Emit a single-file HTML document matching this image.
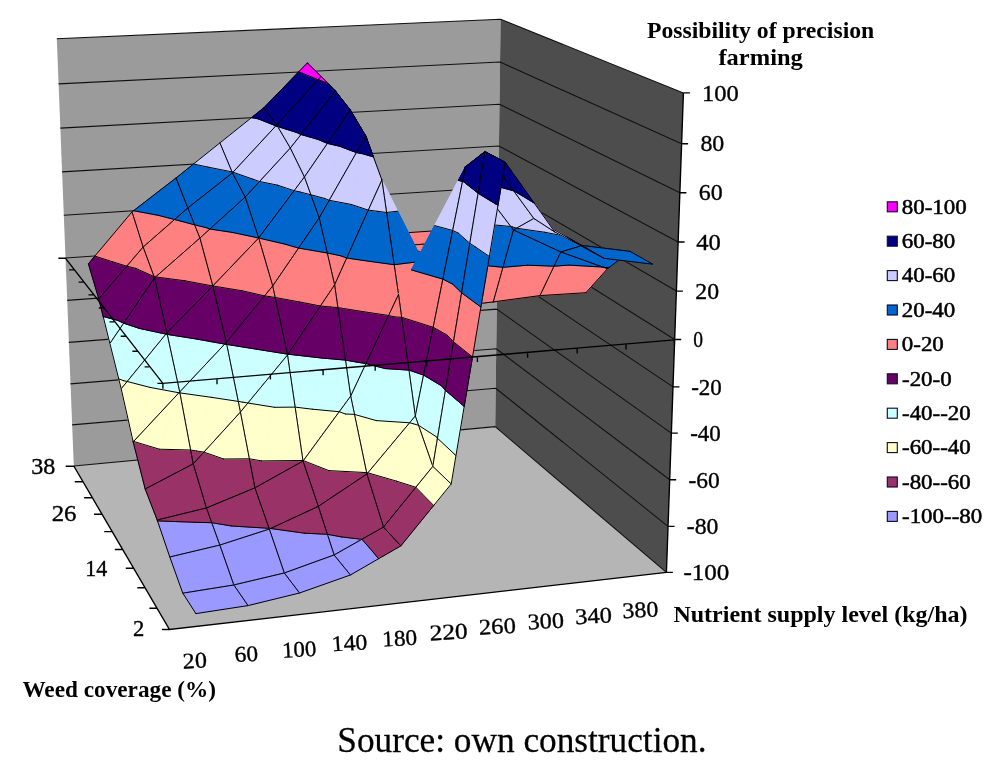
<!DOCTYPE html>
<html><head><meta charset="utf-8"><title>Possibility of precision farming</title>
<style>
html,body{margin:0;padding:0;background:#fff;}
body{width:1000px;height:763px;overflow:hidden;font-family:"Liberation Serif",serif;}
svg{display:block;font-family:"Liberation Serif",serif;}
text{fill:#000;}
</style></head><body>
<svg width="1000" height="763" viewBox="0 0 1000 763">
<defs><filter id="soft" x="0" y="0" width="1000" height="763" filterUnits="userSpaceOnUse"><feGaussianBlur stdDeviation="0.38"/></filter></defs>
<rect width="1000" height="763" fill="#fff"/>
<g filter="url(#soft)">
<polygon points="73.8,466.0 495.2,426.6 666.4,572.4 169.5,629.5" fill="#b5b5b5"/>
<polygon points="56.8,38.7 500.6,19.3 495.2,426.6 73.8,466.0" fill="#9b9b9b"/>
<polygon points="500.6,19.3 683.4,92.9 666.4,572.4 495.2,426.6" fill="#4e4e4e"/>
<path d="M56.8,38.7L500.6,19.3M58.6,83.9L500.0,62.0M60.3,128.1L499.5,104.3M62.1,171.9L498.9,146.0M63.8,215.2L498.4,187.3M65.5,258.0L497.8,228.3M67.2,300.4L497.3,268.9M68.8,342.4L496.8,309.1M70.5,383.9L496.2,348.7M72.1,424.9L495.7,388.2M73.8,466.0L495.2,426.6M500.6,19.3L683.4,92.9M500.0,62.0L681.6,143.7M499.5,104.3L679.9,192.7M498.9,146.0L678.1,242.0M498.4,187.3L676.4,291.1M497.8,228.3L674.7,339.5M497.3,268.9L673.0,386.9M496.8,309.1L671.3,433.1M496.2,348.7L669.7,479.8M495.7,388.2L668.0,526.4M495.2,426.6L666.4,572.4" stroke="#111" stroke-width="1.1" fill="none"/>
<path d="M451.9,242.2L477.8,227.8L436.2,230.7Z" fill="#ff8080" stroke="#ff8080" stroke-width="1"/>
<path d="M451.9,242.2L494.1,239.2L477.8,227.8Z" fill="#ff8080" stroke="#ff8080" stroke-width="1"/>
<path d="M477.8,227.8L436.2,230.7L451.9,242.2M451.9,242.2L494.1,239.2L477.8,227.8" fill="none" stroke="#000" stroke-width="1.0" stroke-linejoin="round" stroke-linecap="round"/>
<path d="M409.2,245.2L436.2,230.7L394.3,233.6Z" fill="#ff8080" stroke="#ff8080" stroke-width="1"/>
<path d="M409.2,245.2L451.9,242.2L436.2,230.7Z" fill="#ff8080" stroke="#ff8080" stroke-width="1"/>
<path d="M436.2,230.7L394.3,233.6L409.2,245.2M409.2,245.2L451.9,242.2L436.2,230.7" fill="none" stroke="#000" stroke-width="1.0" stroke-linejoin="round" stroke-linecap="round"/>
<path d="M366.1,247.2L394.3,233.6L351.9,236.3Z" fill="#ff8080" stroke="#ff8080" stroke-width="1"/>
<path d="M366.1,247.2L409.2,245.2L394.3,233.6Z" fill="#ff8080" stroke="#ff8080" stroke-width="1"/>
<path d="M394.3,233.6L351.9,236.3L366.1,247.2M366.1,247.2L409.2,245.2L394.3,233.6" fill="none" stroke="#000" stroke-width="1.0" stroke-linejoin="round" stroke-linecap="round"/>
<path d="M344.8,199.8L351.9,236.3L341.9,197.4Z" fill="#ff8080" stroke="#ff8080" stroke-width="1"/>
<path d="M337.3,160.5L344.8,199.8L341.9,197.4L331.2,155.9Z" fill="#0066cc" stroke="#0066cc" stroke-width="1"/>
<path d="M329.5,120.4L337.3,160.5L331.2,155.9L320.4,113.9Z" fill="#ccccff" stroke="#ccccff" stroke-width="1"/>
<path d="M321.6,79.3L329.5,120.4L320.4,113.9L309.4,71.4Z" fill="#000080" stroke="#000080" stroke-width="1"/>
<path d="M321.1,76.4L321.6,79.3L309.4,71.4L307.3,63.0Z" fill="#ff00ff" stroke="#ff00ff" stroke-width="1"/>
<path d="M355.7,207.6L366.1,247.2L351.9,236.3L344.8,199.8Z" fill="#ff8080" stroke="#ff8080" stroke-width="1"/>
<path d="M344.6,165.5L355.7,207.6L344.8,199.8L337.3,160.5Z" fill="#0066cc" stroke="#0066cc" stroke-width="1"/>
<path d="M333.3,122.8L344.6,165.5L337.3,160.5L329.5,120.4Z" fill="#ccccff" stroke="#ccccff" stroke-width="1"/>
<path d="M321.9,79.5L333.3,122.8L329.5,120.4L321.6,79.3Z" fill="#000080" stroke="#000080" stroke-width="1"/>
<path d="M321.1,76.4L321.9,79.5L321.6,79.3Z" fill="#ff00ff" stroke="#ff00ff" stroke-width="1"/>
<path d="M351.9,236.3L307.3,63.0L321.1,76.4M344.8,199.8L341.9,197.4M337.3,160.5L331.2,155.9M329.5,120.4L320.4,113.9M321.6,79.3L309.4,71.4M321.1,76.4L366.1,247.2L351.9,236.3M355.7,207.6L344.8,199.8M344.6,165.5L337.3,160.5M333.3,122.8L329.5,120.4M321.9,79.5L321.6,79.3" fill="none" stroke="#000" stroke-width="1.0" stroke-linejoin="round" stroke-linecap="round"/>
<path d="M276.7,125.0L302.3,73.2L298.6,71.9L263.7,107.9Z" fill="#000080" stroke="#000080" stroke-width="1"/>
<path d="M302.3,73.2L307.3,63.0L298.6,71.9Z" fill="#ff00ff" stroke="#ff00ff" stroke-width="1"/>
<path d="M276.7,125.0L318.1,79.7L302.3,73.2Z" fill="#000080" stroke="#000080" stroke-width="1"/>
<path d="M318.1,79.7L321.1,76.4L307.3,63.0L302.3,73.2Z" fill="#ff00ff" stroke="#ff00ff" stroke-width="1"/>
<path d="M307.3,63.0L263.7,107.9L276.7,125.0M302.3,73.2L298.6,71.9M276.7,125.0L321.1,76.4L307.3,63.0M318.1,79.7L302.3,73.2" fill="none" stroke="#000" stroke-width="1.0" stroke-linejoin="round" stroke-linecap="round"/>
<path d="M232.4,172.9L232.8,172.1L232.0,171.9Z" fill="#0066cc" stroke="#0066cc" stroke-width="1"/>
<path d="M232.8,172.1L258.4,118.9L251.5,117.6L219.9,142.9L232.0,171.9Z" fill="#ccccff" stroke="#ccccff" stroke-width="1"/>
<path d="M258.4,118.9L263.7,107.9L251.5,117.6Z" fill="#000080" stroke="#000080" stroke-width="1"/>
<path d="M232.4,172.9L233.0,172.2L232.8,172.1Z" fill="#0066cc" stroke="#0066cc" stroke-width="1"/>
<path d="M233.0,172.2L275.9,125.9L258.4,118.9L232.8,172.1Z" fill="#ccccff" stroke="#ccccff" stroke-width="1"/>
<path d="M275.9,125.9L276.7,125.0L263.7,107.9L258.4,118.9Z" fill="#000080" stroke="#000080" stroke-width="1"/>
<path d="M263.7,107.9L219.9,142.9L232.4,172.9M232.8,172.1L232.0,171.9M258.4,118.9L251.5,117.6M232.4,172.9L276.7,125.0L263.7,107.9M233.0,172.2L232.8,172.1M275.9,125.9L258.4,118.9" fill="none" stroke="#000" stroke-width="1.0" stroke-linejoin="round" stroke-linecap="round"/>
<path d="M187.8,208.0L208.0,167.1L193.5,164.0L176.0,178.0Z" fill="#0066cc" stroke="#0066cc" stroke-width="1"/>
<path d="M208.0,167.1L219.9,142.9L193.5,164.0Z" fill="#ccccff" stroke="#ccccff" stroke-width="1"/>
<path d="M187.8,208.0L232.4,172.9L232.0,171.9L208.0,167.1Z" fill="#0066cc" stroke="#0066cc" stroke-width="1"/>
<path d="M232.0,171.9L219.9,142.9L208.0,167.1Z" fill="#ccccff" stroke="#ccccff" stroke-width="1"/>
<path d="M219.9,142.9L176.0,178.0L187.8,208.0M208.0,167.1L193.5,164.0M187.8,208.0L232.4,172.9L219.9,142.9M232.0,171.9L208.0,167.1" fill="none" stroke="#000" stroke-width="1.0" stroke-linejoin="round" stroke-linecap="round"/>
<path d="M143.1,247.1L158.2,215.3L133.5,210.7L132.0,211.9Z" fill="#ff8080" stroke="#ff8080" stroke-width="1"/>
<path d="M158.2,215.3L176.0,178.0L133.5,210.7Z" fill="#0066cc" stroke="#0066cc" stroke-width="1"/>
<path d="M143.1,247.1L174.6,219.5L158.2,215.3Z" fill="#ff8080" stroke="#ff8080" stroke-width="1"/>
<path d="M174.6,219.5L187.8,208.0L176.0,178.0L158.2,215.3Z" fill="#0066cc" stroke="#0066cc" stroke-width="1"/>
<path d="M176.0,178.0L132.0,211.9L143.1,247.1M158.2,215.3L133.5,210.7M143.1,247.1L187.8,208.0L176.0,178.0M174.6,219.5L158.2,215.3" fill="none" stroke="#000" stroke-width="1.0" stroke-linejoin="round" stroke-linecap="round"/>
<path d="M98.8,298.9L112.9,261.9L94.9,256.1L88.4,263.8Z" fill="#660066" stroke="#660066" stroke-width="1"/>
<path d="M112.9,261.9L132.0,211.9L94.9,256.1Z" fill="#ff8080" stroke="#ff8080" stroke-width="1"/>
<path d="M98.8,298.9L126.8,266.2L112.9,261.9Z" fill="#660066" stroke="#660066" stroke-width="1"/>
<path d="M126.8,266.2L143.1,247.1L132.0,211.9L112.9,261.9Z" fill="#ff8080" stroke="#ff8080" stroke-width="1"/>
<path d="M132.0,211.9L88.4,263.8L98.8,298.9M112.9,261.9L94.9,256.1M98.8,298.9L143.1,247.1L132.0,211.9M126.8,266.2L112.9,261.9" fill="none" stroke="#000" stroke-width="1.0" stroke-linejoin="round" stroke-linecap="round"/>
<path d="M468.1,252.3L494.1,239.2L451.9,242.2Z" fill="#ff8080" stroke="#ff8080" stroke-width="1"/>
<path d="M468.1,252.3L511.1,249.2L494.1,239.2Z" fill="#ff8080" stroke="#ff8080" stroke-width="1"/>
<path d="M494.1,239.2L451.9,242.2L468.1,252.3M468.1,252.3L511.1,249.2L494.1,239.2" fill="none" stroke="#000" stroke-width="1.0" stroke-linejoin="round" stroke-linecap="round"/>
<path d="M424.7,255.4L451.9,242.2L409.2,245.2Z" fill="#ff8080" stroke="#ff8080" stroke-width="1"/>
<path d="M424.7,255.4L468.1,252.3L451.9,242.2Z" fill="#ff8080" stroke="#ff8080" stroke-width="1"/>
<path d="M451.9,242.2L409.2,245.2L424.7,255.4M424.7,255.4L468.1,252.3L451.9,242.2" fill="none" stroke="#000" stroke-width="1.0" stroke-linejoin="round" stroke-linecap="round"/>
<path d="M380.9,258.5L409.2,245.2L366.1,247.2Z" fill="#ff8080" stroke="#ff8080" stroke-width="1"/>
<path d="M380.9,258.5L424.7,255.4L409.2,245.2Z" fill="#ff8080" stroke="#ff8080" stroke-width="1"/>
<path d="M409.2,245.2L366.1,247.2L380.9,258.5M380.9,258.5L424.7,255.4L409.2,245.2" fill="none" stroke="#000" stroke-width="1.0" stroke-linejoin="round" stroke-linecap="round"/>
<path d="M358.8,210.2L366.1,247.2L355.7,207.6Z" fill="#ff8080" stroke="#ff8080" stroke-width="1"/>
<path d="M351.0,170.5L358.8,210.2L355.7,207.6L344.6,165.5Z" fill="#0066cc" stroke="#0066cc" stroke-width="1"/>
<path d="M343.0,129.7L351.0,170.5L344.6,165.5L333.3,122.8Z" fill="#ccccff" stroke="#ccccff" stroke-width="1"/>
<path d="M335.4,91.0L343.0,129.7L333.3,122.8L321.9,79.5L328.2,83.7Z" fill="#000080" stroke="#000080" stroke-width="1"/>
<path d="M321.9,79.5L321.1,76.4L328.2,83.7Z" fill="#ff00ff" stroke="#ff00ff" stroke-width="1"/>
<path d="M370.0,218.3L380.9,258.5L366.1,247.2L358.8,210.2Z" fill="#ff8080" stroke="#ff8080" stroke-width="1"/>
<path d="M358.3,175.4L370.0,218.3L358.8,210.2L351.0,170.5Z" fill="#0066cc" stroke="#0066cc" stroke-width="1"/>
<path d="M346.5,132.0L358.3,175.4L351.0,170.5L343.0,129.7Z" fill="#ccccff" stroke="#ccccff" stroke-width="1"/>
<path d="M335.4,91.0L346.5,132.0L343.0,129.7Z" fill="#000080" stroke="#000080" stroke-width="1"/>
<path d="M366.1,247.2L321.1,76.4L335.4,91.0M358.8,210.2L355.7,207.6M351.0,170.5L344.6,165.5M343.0,129.7L333.3,122.8M321.9,79.5L328.2,83.7M335.4,91.0L380.9,258.5L366.1,247.2M370.0,218.3L358.8,210.2M358.3,175.4L351.0,170.5M346.5,132.0L343.0,129.7" fill="none" stroke="#000" stroke-width="1.0" stroke-linejoin="round" stroke-linecap="round"/>
<path d="M290.3,148.1L297.0,132.6L277.6,126.5Z" fill="#ccccff" stroke="#ccccff" stroke-width="1"/>
<path d="M297.0,132.6L319.5,80.1L318.1,79.7L276.7,125.0L277.6,126.5Z" fill="#000080" stroke="#000080" stroke-width="1"/>
<path d="M319.5,80.1L321.1,76.4L318.1,79.7Z" fill="#ff00ff" stroke="#ff00ff" stroke-width="1"/>
<path d="M290.3,148.1L301.0,134.5L297.0,132.6Z" fill="#ccccff" stroke="#ccccff" stroke-width="1"/>
<path d="M301.0,134.5L335.4,91.0L328.2,83.7L319.5,80.1L297.0,132.6Z" fill="#000080" stroke="#000080" stroke-width="1"/>
<path d="M328.2,83.7L321.1,76.4L319.5,80.1Z" fill="#ff00ff" stroke="#ff00ff" stroke-width="1"/>
<path d="M321.1,76.4L276.7,125.0L290.3,148.1M297.0,132.6L277.6,126.5M319.5,80.1L318.1,79.7M290.3,148.1L335.4,91.0L321.1,76.4M301.0,134.5L297.0,132.6M328.2,83.7L319.5,80.1" fill="none" stroke="#000" stroke-width="1.0" stroke-linejoin="round" stroke-linecap="round"/>
<path d="M245.2,197.1L253.0,179.2L233.0,172.2L232.4,172.9Z" fill="#0066cc" stroke="#0066cc" stroke-width="1"/>
<path d="M253.0,179.2L276.3,126.1L275.9,125.9L233.0,172.2Z" fill="#ccccff" stroke="#ccccff" stroke-width="1"/>
<path d="M276.3,126.1L276.7,125.0L275.9,125.9Z" fill="#000080" stroke="#000080" stroke-width="1"/>
<path d="M245.2,197.1L259.5,181.5L253.0,179.2Z" fill="#0066cc" stroke="#0066cc" stroke-width="1"/>
<path d="M259.5,181.5L290.3,148.1L277.6,126.5L276.3,126.1L253.0,179.2Z" fill="#ccccff" stroke="#ccccff" stroke-width="1"/>
<path d="M277.6,126.5L276.7,125.0L276.3,126.1Z" fill="#000080" stroke="#000080" stroke-width="1"/>
<path d="M276.7,125.0L232.4,172.9L245.2,197.1M253.0,179.2L233.0,172.2M276.3,126.1L275.9,125.9M245.2,197.1L290.3,148.1L276.7,125.0M259.5,181.5L253.0,179.2M277.6,126.5L276.3,126.1" fill="none" stroke="#000" stroke-width="1.0" stroke-linejoin="round" stroke-linecap="round"/>
<path d="M199.9,238.1L205.2,227.4L194.5,224.8Z" fill="#ff8080" stroke="#ff8080" stroke-width="1"/>
<path d="M205.2,227.4L232.4,172.9L187.8,208.0L194.5,224.8Z" fill="#0066cc" stroke="#0066cc" stroke-width="1"/>
<path d="M199.9,238.1L209.9,229.0L205.2,227.4Z" fill="#ff8080" stroke="#ff8080" stroke-width="1"/>
<path d="M209.9,229.0L245.2,197.1L232.4,172.9L205.2,227.4Z" fill="#0066cc" stroke="#0066cc" stroke-width="1"/>
<path d="M232.4,172.9L187.8,208.0L199.9,238.1M205.2,227.4L194.5,224.8M199.9,238.1L245.2,197.1L232.4,172.9M209.9,229.0L205.2,227.4" fill="none" stroke="#000" stroke-width="1.0" stroke-linejoin="round" stroke-linecap="round"/>
<path d="M154.5,277.9L155.0,276.8L153.9,276.5Z" fill="#660066" stroke="#660066" stroke-width="1"/>
<path d="M155.0,276.8L181.4,221.3L174.6,219.5L143.1,247.1L153.9,276.5Z" fill="#ff8080" stroke="#ff8080" stroke-width="1"/>
<path d="M181.4,221.3L187.8,208.0L174.6,219.5Z" fill="#0066cc" stroke="#0066cc" stroke-width="1"/>
<path d="M154.5,277.9L155.6,276.9L155.0,276.8Z" fill="#660066" stroke="#660066" stroke-width="1"/>
<path d="M155.6,276.9L199.9,238.1L194.5,224.8L181.4,221.3L155.0,276.8Z" fill="#ff8080" stroke="#ff8080" stroke-width="1"/>
<path d="M194.5,224.8L187.8,208.0L181.4,221.3Z" fill="#0066cc" stroke="#0066cc" stroke-width="1"/>
<path d="M187.8,208.0L143.1,247.1L154.5,277.9M155.0,276.8L153.9,276.5M181.4,221.3L174.6,219.5M154.5,277.9L199.9,238.1L187.8,208.0M155.6,276.9L155.0,276.8M194.5,224.8L181.4,221.3" fill="none" stroke="#000" stroke-width="1.0" stroke-linejoin="round" stroke-linecap="round"/>
<path d="M109.9,343.5L117.8,320.4L103.2,316.5Z" fill="#ccffff" stroke="#ccffff" stroke-width="1"/>
<path d="M117.8,320.4L135.8,268.4L126.8,266.2L98.8,298.9L103.2,316.5Z" fill="#660066" stroke="#660066" stroke-width="1"/>
<path d="M135.8,268.4L143.1,247.1L126.8,266.2Z" fill="#ff8080" stroke="#ff8080" stroke-width="1"/>
<path d="M109.9,343.5L123.7,323.2L117.8,320.4Z" fill="#ccffff" stroke="#ccffff" stroke-width="1"/>
<path d="M123.7,323.2L154.5,277.9L153.9,276.5L135.8,268.4L117.8,320.4Z" fill="#660066" stroke="#660066" stroke-width="1"/>
<path d="M153.9,276.5L143.1,247.1L135.8,268.4Z" fill="#ff8080" stroke="#ff8080" stroke-width="1"/>
<path d="M143.1,247.1L98.8,298.9L109.9,343.5M117.8,320.4L103.2,316.5M135.8,268.4L126.8,266.2M109.9,343.5L154.5,277.9L143.1,247.1M123.7,323.2L117.8,320.4M153.9,276.5L135.8,268.4" fill="none" stroke="#000" stroke-width="1.0" stroke-linejoin="round" stroke-linecap="round"/>
<path d="M485.0,263.8L511.1,249.2L468.1,252.3Z" fill="#ff8080" stroke="#ff8080" stroke-width="1"/>
<path d="M485.0,263.8L528.7,260.6L511.1,249.2Z" fill="#ff8080" stroke="#ff8080" stroke-width="1"/>
<path d="M511.1,249.2L468.1,252.3L485.0,263.8M485.0,263.8L528.7,260.6L511.1,249.2" fill="none" stroke="#000" stroke-width="1.0" stroke-linejoin="round" stroke-linecap="round"/>
<path d="M440.9,267.1L468.1,252.3L424.7,255.4Z" fill="#ff8080" stroke="#ff8080" stroke-width="1"/>
<path d="M440.9,267.1L485.0,263.8L468.1,252.3Z" fill="#ff8080" stroke="#ff8080" stroke-width="1"/>
<path d="M468.1,252.3L424.7,255.4L440.9,267.1M440.9,267.1L485.0,263.8L468.1,252.3" fill="none" stroke="#000" stroke-width="1.0" stroke-linejoin="round" stroke-linecap="round"/>
<path d="M396.2,270.3L424.7,255.4L380.9,258.5Z" fill="#ff8080" stroke="#ff8080" stroke-width="1"/>
<path d="M396.2,270.3L440.9,267.1L424.7,255.4Z" fill="#ff8080" stroke="#ff8080" stroke-width="1"/>
<path d="M424.7,255.4L380.9,258.5L396.2,270.3M396.2,270.3L440.9,267.1L424.7,255.4" fill="none" stroke="#000" stroke-width="1.0" stroke-linejoin="round" stroke-linecap="round"/>
<path d="M373.2,221.2L380.9,258.5L370.0,218.3Z" fill="#ff8080" stroke="#ff8080" stroke-width="1"/>
<path d="M364.9,181.0L373.2,221.2L370.0,218.3L358.3,175.4Z" fill="#0066cc" stroke="#0066cc" stroke-width="1"/>
<path d="M356.4,139.7L364.9,181.0L358.3,175.4L346.5,132.0Z" fill="#ccccff" stroke="#ccccff" stroke-width="1"/>
<path d="M350.3,110.0L356.4,139.7L346.5,132.0L335.4,91.0Z" fill="#000080" stroke="#000080" stroke-width="1"/>
<path d="M384.5,229.4L396.2,270.3L380.9,258.5L373.2,221.2Z" fill="#ff8080" stroke="#ff8080" stroke-width="1"/>
<path d="M372.0,185.8L384.5,229.4L373.2,221.2L364.9,181.0Z" fill="#0066cc" stroke="#0066cc" stroke-width="1"/>
<path d="M359.3,141.6L372.0,185.8L364.9,181.0L356.4,139.7Z" fill="#ccccff" stroke="#ccccff" stroke-width="1"/>
<path d="M350.3,110.0L359.3,141.6L356.4,139.7Z" fill="#000080" stroke="#000080" stroke-width="1"/>
<path d="M380.9,258.5L335.4,91.0L350.3,110.0M373.2,221.2L370.0,218.3M364.9,181.0L358.3,175.4M356.4,139.7L346.5,132.0M350.3,110.0L396.2,270.3L380.9,258.5M384.5,229.4L373.2,221.2M372.0,185.8L364.9,181.0M359.3,141.6L356.4,139.7" fill="none" stroke="#000" stroke-width="1.0" stroke-linejoin="round" stroke-linecap="round"/>
<path d="M304.4,177.0L318.0,139.4L301.0,134.5L290.3,148.1Z" fill="#ccccff" stroke="#ccccff" stroke-width="1"/>
<path d="M318.0,139.4L335.4,91.0L301.0,134.5Z" fill="#000080" stroke="#000080" stroke-width="1"/>
<path d="M304.4,177.0L327.4,143.4L318.0,139.4Z" fill="#ccccff" stroke="#ccccff" stroke-width="1"/>
<path d="M327.4,143.4L350.3,110.0L335.4,91.0L318.0,139.4Z" fill="#000080" stroke="#000080" stroke-width="1"/>
<path d="M335.4,91.0L290.3,148.1L304.4,177.0M318.0,139.4L301.0,134.5M304.4,177.0L350.3,110.0L335.4,91.0M327.4,143.4L318.0,139.4" fill="none" stroke="#000" stroke-width="1.0" stroke-linejoin="round" stroke-linecap="round"/>
<path d="M258.7,238.0L258.7,238.0L258.7,238.0Z" fill="#ff8080" stroke="#ff8080" stroke-width="1"/>
<path d="M258.7,238.0L277.3,185.1L259.5,181.5L245.2,197.1Z" fill="#0066cc" stroke="#0066cc" stroke-width="1"/>
<path d="M277.3,185.1L290.3,148.1L259.5,181.5Z" fill="#ccccff" stroke="#ccccff" stroke-width="1"/>
<path d="M258.7,238.0L258.7,238.0L258.7,238.0Z" fill="#ff8080" stroke="#ff8080" stroke-width="1"/>
<path d="M258.7,238.0L294.1,190.7L277.3,185.1Z" fill="#0066cc" stroke="#0066cc" stroke-width="1"/>
<path d="M294.1,190.7L304.4,177.0L290.3,148.1L277.3,185.1Z" fill="#ccccff" stroke="#ccccff" stroke-width="1"/>
<path d="M290.3,148.1L245.2,197.1L258.7,238.0M277.3,185.1L259.5,181.5M258.7,238.0L304.4,177.0L290.3,148.1M294.1,190.7L277.3,185.1" fill="none" stroke="#000" stroke-width="1.0" stroke-linejoin="round" stroke-linecap="round"/>
<path d="M212.8,286.0L212.8,286.0L212.8,286.0Z" fill="#660066" stroke="#660066" stroke-width="1"/>
<path d="M212.8,286.0L232.3,232.4L209.9,229.0L199.9,238.1Z" fill="#ff8080" stroke="#ff8080" stroke-width="1"/>
<path d="M232.3,232.4L245.2,197.1L209.9,229.0Z" fill="#0066cc" stroke="#0066cc" stroke-width="1"/>
<path d="M212.8,286.0L212.8,286.0L212.8,286.0Z" fill="#660066" stroke="#660066" stroke-width="1"/>
<path d="M212.8,286.0L258.7,238.0L258.7,238.0L232.3,232.4Z" fill="#ff8080" stroke="#ff8080" stroke-width="1"/>
<path d="M258.7,238.0L258.7,238.0L245.2,197.1L232.3,232.4Z" fill="#0066cc" stroke="#0066cc" stroke-width="1"/>
<path d="M245.2,197.1L199.9,238.1L212.8,286.0M232.3,232.4L209.9,229.0M212.8,286.0L258.7,238.0L245.2,197.1M258.7,238.0L232.3,232.4" fill="none" stroke="#000" stroke-width="1.0" stroke-linejoin="round" stroke-linecap="round"/>
<path d="M166.9,332.9L185.0,280.8L155.6,276.9L154.5,277.9Z" fill="#660066" stroke="#660066" stroke-width="1"/>
<path d="M185.0,280.8L199.9,238.1L155.6,276.9Z" fill="#ff8080" stroke="#ff8080" stroke-width="1"/>
<path d="M166.9,332.9L212.8,286.0L212.8,286.0L185.0,280.8Z" fill="#660066" stroke="#660066" stroke-width="1"/>
<path d="M212.8,286.0L212.8,286.0L199.9,238.1L185.0,280.8Z" fill="#ff8080" stroke="#ff8080" stroke-width="1"/>
<path d="M199.9,238.1L154.5,277.9L166.9,332.9M185.0,280.8L155.6,276.9M166.9,332.9L212.8,286.0L199.9,238.1M212.8,286.0L185.0,280.8" fill="none" stroke="#000" stroke-width="1.0" stroke-linejoin="round" stroke-linecap="round"/>
<path d="M121.2,388.8L123.7,380.7L118.7,378.9Z" fill="#ffffcc" stroke="#ffffcc" stroke-width="1"/>
<path d="M123.7,380.7L139.3,328.4L123.7,323.2L109.9,343.5L118.7,378.9Z" fill="#ccffff" stroke="#ccffff" stroke-width="1"/>
<path d="M139.3,328.4L154.5,277.9L123.7,323.2Z" fill="#660066" stroke="#660066" stroke-width="1"/>
<path d="M121.2,388.8L127.2,381.5L123.7,380.7Z" fill="#ffffcc" stroke="#ffffcc" stroke-width="1"/>
<path d="M127.2,381.5L165.9,334.1L139.3,328.4L123.7,380.7Z" fill="#ccffff" stroke="#ccffff" stroke-width="1"/>
<path d="M165.9,334.1L166.9,332.9L154.5,277.9L139.3,328.4Z" fill="#660066" stroke="#660066" stroke-width="1"/>
<path d="M154.5,277.9L109.9,343.5L121.2,388.8M123.7,380.7L118.7,378.9M139.3,328.4L123.7,323.2M121.2,388.8L166.9,332.9L154.5,277.9M127.2,381.5L123.7,380.7M165.9,334.1L139.3,328.4" fill="none" stroke="#000" stroke-width="1.0" stroke-linejoin="round" stroke-linecap="round"/>
<path d="M502.5,275.8L528.7,260.6L485.0,263.8Z" fill="#ff8080" stroke="#ff8080" stroke-width="1"/>
<path d="M502.5,275.8L547.0,272.5L528.7,260.6Z" fill="#ff8080" stroke="#ff8080" stroke-width="1"/>
<path d="M528.7,260.6L485.0,263.8L502.5,275.8M502.5,275.8L547.0,272.5L528.7,260.6" fill="none" stroke="#000" stroke-width="1.0" stroke-linejoin="round" stroke-linecap="round"/>
<path d="M457.6,279.2L485.0,263.8L440.9,267.1Z" fill="#ff8080" stroke="#ff8080" stroke-width="1"/>
<path d="M457.6,279.2L502.5,275.8L485.0,263.8Z" fill="#ff8080" stroke="#ff8080" stroke-width="1"/>
<path d="M485.0,263.8L440.9,267.1L457.6,279.2M457.6,279.2L502.5,275.8L485.0,263.8" fill="none" stroke="#000" stroke-width="1.0" stroke-linejoin="round" stroke-linecap="round"/>
<path d="M412.2,282.1L440.9,267.1L396.2,270.3Z" fill="#ff8080" stroke="#ff8080" stroke-width="1"/>
<path d="M412.2,282.1L457.6,279.2L440.9,267.1Z" fill="#ff8080" stroke="#ff8080" stroke-width="1"/>
<path d="M440.9,267.1L396.2,270.3L412.2,282.1M412.2,282.1L457.6,279.2L440.9,267.1" fill="none" stroke="#000" stroke-width="1.0" stroke-linejoin="round" stroke-linecap="round"/>
<path d="M387.7,232.8L396.2,270.3L384.5,229.4Z" fill="#ff8080" stroke="#ff8080" stroke-width="1"/>
<path d="M378.5,192.3L387.7,232.8L384.5,229.4L372.0,185.8Z" fill="#0066cc" stroke="#0066cc" stroke-width="1"/>
<path d="M369.1,150.7L378.5,192.3L372.0,185.8L359.3,141.6Z" fill="#ccccff" stroke="#ccccff" stroke-width="1"/>
<path d="M365.8,136.1L369.1,150.7L359.3,141.6L350.3,110.0Z" fill="#000080" stroke="#000080" stroke-width="1"/>
<path d="M399.1,241.0L412.2,282.1L396.2,270.3L387.7,232.8Z" fill="#ff8080" stroke="#ff8080" stroke-width="1"/>
<path d="M385.1,196.7L399.1,241.0L387.7,232.8L378.5,192.3Z" fill="#0066cc" stroke="#0066cc" stroke-width="1"/>
<path d="M370.8,151.7L385.1,196.7L378.5,192.3L369.1,150.7Z" fill="#ccccff" stroke="#ccccff" stroke-width="1"/>
<path d="M365.8,136.1L370.8,151.7L369.1,150.7Z" fill="#000080" stroke="#000080" stroke-width="1"/>
<path d="M396.2,270.3L350.3,110.0L365.8,136.1M387.7,232.8L384.5,229.4M378.5,192.3L372.0,185.8M369.1,150.7L359.3,141.6M365.8,136.1L412.2,282.1L396.2,270.3M399.1,241.0L387.7,232.8M385.1,196.7L378.5,192.3M370.8,151.7L369.1,150.7" fill="none" stroke="#000" stroke-width="1.0" stroke-linejoin="round" stroke-linecap="round"/>
<path d="M319.2,217.9L324.8,198.5L310.9,194.8Z" fill="#0066cc" stroke="#0066cc" stroke-width="1"/>
<path d="M324.8,198.5L339.8,146.3L327.4,143.4L304.4,177.0L310.9,194.8Z" fill="#ccccff" stroke="#ccccff" stroke-width="1"/>
<path d="M339.8,146.3L350.3,110.0L327.4,143.4Z" fill="#000080" stroke="#000080" stroke-width="1"/>
<path d="M319.2,217.9L329.2,200.3L324.8,198.5Z" fill="#0066cc" stroke="#0066cc" stroke-width="1"/>
<path d="M329.2,200.3L356.4,152.6L339.8,146.3L324.8,198.5Z" fill="#ccccff" stroke="#ccccff" stroke-width="1"/>
<path d="M356.4,152.6L365.8,136.1L350.3,110.0L339.8,146.3Z" fill="#000080" stroke="#000080" stroke-width="1"/>
<path d="M350.3,110.0L304.4,177.0L319.2,217.9M324.8,198.5L310.9,194.8M339.8,146.3L327.4,143.4M319.2,217.9L365.8,136.1L350.3,110.0M329.2,200.3L324.8,198.5M356.4,152.6L339.8,146.3" fill="none" stroke="#000" stroke-width="1.0" stroke-linejoin="round" stroke-linecap="round"/>
<path d="M272.7,286.0L284.9,244.1L258.7,238.0L258.7,238.0Z" fill="#ff8080" stroke="#ff8080" stroke-width="1"/>
<path d="M284.9,244.1L300.1,192.0L294.1,190.7L258.7,238.0L258.7,238.0Z" fill="#0066cc" stroke="#0066cc" stroke-width="1"/>
<path d="M300.1,192.0L304.4,177.0L294.1,190.7Z" fill="#ccccff" stroke="#ccccff" stroke-width="1"/>
<path d="M272.7,286.0L298.6,248.1L284.9,244.1Z" fill="#ff8080" stroke="#ff8080" stroke-width="1"/>
<path d="M298.6,248.1L319.2,217.9L310.9,194.8L300.1,192.0L284.9,244.1Z" fill="#0066cc" stroke="#0066cc" stroke-width="1"/>
<path d="M310.9,194.8L304.4,177.0L300.1,192.0Z" fill="#ccccff" stroke="#ccccff" stroke-width="1"/>
<path d="M304.4,177.0L258.7,238.0L272.7,286.0M284.9,244.1L258.7,238.0M300.1,192.0L294.1,190.7M272.7,286.0L319.2,217.9L304.4,177.0M298.6,248.1L284.9,244.1M310.9,194.8L300.1,192.0" fill="none" stroke="#000" stroke-width="1.0" stroke-linejoin="round" stroke-linecap="round"/>
<path d="M226.3,342.4L242.3,290.8L212.8,286.0L212.8,286.0Z" fill="#660066" stroke="#660066" stroke-width="1"/>
<path d="M242.3,290.8L258.7,238.0L212.8,286.0L212.8,286.0Z" fill="#ff8080" stroke="#ff8080" stroke-width="1"/>
<path d="M258.7,238.0L258.7,238.0L258.7,238.0Z" fill="#0066cc" stroke="#0066cc" stroke-width="1"/>
<path d="M226.3,342.4L264.6,295.9L242.3,290.8Z" fill="#660066" stroke="#660066" stroke-width="1"/>
<path d="M264.6,295.9L272.7,286.0L258.7,238.0L242.3,290.8Z" fill="#ff8080" stroke="#ff8080" stroke-width="1"/>
<path d="M258.7,238.0L258.7,238.0L258.7,238.0Z" fill="#0066cc" stroke="#0066cc" stroke-width="1"/>
<path d="M258.7,238.0L212.8,286.0L226.3,342.4M242.3,290.8L212.8,286.0M226.3,342.4L272.7,286.0L258.7,238.0M264.6,295.9L242.3,290.8" fill="none" stroke="#000" stroke-width="1.0" stroke-linejoin="round" stroke-linecap="round"/>
<path d="M179.7,392.0L196.3,339.0L167.2,334.4Z" fill="#ccffff" stroke="#ccffff" stroke-width="1"/>
<path d="M196.3,339.0L212.8,286.0L166.9,332.9L167.2,334.4Z" fill="#660066" stroke="#660066" stroke-width="1"/>
<path d="M212.8,286.0L212.8,286.0L212.8,286.0Z" fill="#ff8080" stroke="#ff8080" stroke-width="1"/>
<path d="M179.7,392.0L224.7,344.1L196.3,339.0Z" fill="#ccffff" stroke="#ccffff" stroke-width="1"/>
<path d="M224.7,344.1L226.3,342.4L212.8,286.0L196.3,339.0Z" fill="#660066" stroke="#660066" stroke-width="1"/>
<path d="M212.8,286.0L212.8,286.0L212.8,286.0Z" fill="#ff8080" stroke="#ff8080" stroke-width="1"/>
<path d="M212.8,286.0L166.9,332.9L179.7,392.0M196.3,339.0L167.2,334.4M179.7,392.0L226.3,342.4L212.8,286.0M224.7,344.1L196.3,339.0" fill="none" stroke="#000" stroke-width="1.0" stroke-linejoin="round" stroke-linecap="round"/>
<path d="M133.2,441.9L133.3,441.3L133.0,441.2Z" fill="#993366" stroke="#993366" stroke-width="1"/>
<path d="M133.3,441.3L150.0,387.4L127.2,381.5L121.2,388.8L133.0,441.2Z" fill="#ffffcc" stroke="#ffffcc" stroke-width="1"/>
<path d="M150.0,387.4L166.5,334.2L165.9,334.1L127.2,381.5Z" fill="#ccffff" stroke="#ccffff" stroke-width="1"/>
<path d="M166.5,334.2L166.9,332.9L165.9,334.1Z" fill="#660066" stroke="#660066" stroke-width="1"/>
<path d="M133.2,441.9L133.6,441.4L133.3,441.3Z" fill="#993366" stroke="#993366" stroke-width="1"/>
<path d="M133.6,441.4L179.0,392.8L150.0,387.4L133.3,441.3Z" fill="#ffffcc" stroke="#ffffcc" stroke-width="1"/>
<path d="M179.0,392.8L179.7,392.0L167.2,334.4L166.5,334.2L150.0,387.4Z" fill="#ccffff" stroke="#ccffff" stroke-width="1"/>
<path d="M167.2,334.4L166.9,332.9L166.5,334.2Z" fill="#660066" stroke="#660066" stroke-width="1"/>
<path d="M166.9,332.9L121.2,388.8L133.2,441.9M133.3,441.3L133.0,441.2M150.0,387.4L127.2,381.5M166.5,334.2L165.9,334.1M133.2,441.9L179.7,392.0L166.9,332.9M133.6,441.4L133.3,441.3M179.0,392.8L150.0,387.4M167.2,334.4L166.5,334.2" fill="none" stroke="#000" stroke-width="1.0" stroke-linejoin="round" stroke-linecap="round"/>
<path d="M520.8,287.2L547.0,272.5L502.5,275.8Z" fill="#ff8080" stroke="#ff8080" stroke-width="1"/>
<path d="M520.8,287.2L566.0,283.7L547.0,272.5Z" fill="#ff8080" stroke="#ff8080" stroke-width="1"/>
<path d="M547.0,272.5L502.5,275.8L520.8,287.2M520.8,287.2L566.0,283.7L547.0,272.5" fill="none" stroke="#000" stroke-width="1.0" stroke-linejoin="round" stroke-linecap="round"/>
<path d="M475.1,290.7L502.5,275.8L457.6,279.2Z" fill="#ff8080" stroke="#ff8080" stroke-width="1"/>
<path d="M475.1,290.7L520.8,287.2L502.5,275.8Z" fill="#ff8080" stroke="#ff8080" stroke-width="1"/>
<path d="M502.5,275.8L457.6,279.2L475.1,290.7M475.1,290.7L520.8,287.2L502.5,275.8" fill="none" stroke="#000" stroke-width="1.0" stroke-linejoin="round" stroke-linecap="round"/>
<path d="M428.8,294.2L457.6,279.2L412.2,282.1Z" fill="#ff8080" stroke="#ff8080" stroke-width="1"/>
<path d="M428.8,294.2L475.1,290.7L457.6,279.2Z" fill="#ff8080" stroke="#ff8080" stroke-width="1"/>
<path d="M457.6,279.2L412.2,282.1L428.8,294.2M428.8,294.2L475.1,290.7L457.6,279.2" fill="none" stroke="#000" stroke-width="1.0" stroke-linejoin="round" stroke-linecap="round"/>
<path d="M401.4,245.7L412.2,282.1L399.1,241.0Z" fill="#ff8080" stroke="#ff8080" stroke-width="1"/>
<path d="M389.5,205.6L401.4,245.7L399.1,241.0L385.1,196.7Z" fill="#0066cc" stroke="#0066cc" stroke-width="1"/>
<path d="M381.9,180.0L389.5,205.6L385.1,196.7L370.8,151.7L373.4,156.9Z" fill="#ccccff" stroke="#ccccff" stroke-width="1"/>
<path d="M370.8,151.7L365.8,136.1L373.4,156.9Z" fill="#000080" stroke="#000080" stroke-width="1"/>
<path d="M412.0,253.3L428.8,294.2L412.2,282.1L401.4,245.7Z" fill="#ff8080" stroke="#ff8080" stroke-width="1"/>
<path d="M393.6,208.4L412.0,253.3L401.4,245.7L389.5,205.6Z" fill="#0066cc" stroke="#0066cc" stroke-width="1"/>
<path d="M381.9,180.0L393.6,208.4L389.5,205.6Z" fill="#ccccff" stroke="#ccccff" stroke-width="1"/>
<path d="M412.2,282.1L365.8,136.1L381.9,180.0M401.4,245.7L399.1,241.0M389.5,205.6L385.1,196.7M370.8,151.7L373.4,156.9M381.9,180.0L428.8,294.2L412.2,282.1M412.0,253.3L401.4,245.7M393.6,208.4L389.5,205.6" fill="none" stroke="#000" stroke-width="1.0" stroke-linejoin="round" stroke-linecap="round"/>
<path d="M334.6,284.9L340.7,255.8L327.3,253.0Z" fill="#ff8080" stroke="#ff8080" stroke-width="1"/>
<path d="M340.7,255.8L351.4,204.5L329.2,200.3L319.2,217.9L327.3,253.0Z" fill="#0066cc" stroke="#0066cc" stroke-width="1"/>
<path d="M351.4,204.5L362.1,153.6L356.4,152.6L329.2,200.3Z" fill="#ccccff" stroke="#ccccff" stroke-width="1"/>
<path d="M362.1,153.6L365.8,136.1L356.4,152.6Z" fill="#000080" stroke="#000080" stroke-width="1"/>
<path d="M334.6,284.9L346.7,258.0L340.7,255.8Z" fill="#ff8080" stroke="#ff8080" stroke-width="1"/>
<path d="M346.7,258.0L368.3,210.1L351.4,204.5L340.7,255.8Z" fill="#0066cc" stroke="#0066cc" stroke-width="1"/>
<path d="M368.3,210.1L381.9,180.0L373.4,156.9L362.1,153.6L351.4,204.5Z" fill="#ccccff" stroke="#ccccff" stroke-width="1"/>
<path d="M373.4,156.9L365.8,136.1L362.1,153.6Z" fill="#000080" stroke="#000080" stroke-width="1"/>
<path d="M365.8,136.1L319.2,217.9L334.6,284.9M340.7,255.8L327.3,253.0M351.4,204.5L329.2,200.3M362.1,153.6L356.4,152.6M334.6,284.9L381.9,180.0L365.8,136.1M346.7,258.0L340.7,255.8M368.3,210.1L351.4,204.5M373.4,156.9L362.1,153.6" fill="none" stroke="#000" stroke-width="1.0" stroke-linejoin="round" stroke-linecap="round"/>
<path d="M287.5,355.0L287.7,354.2L287.3,354.1Z" fill="#ccffff" stroke="#ccffff" stroke-width="1"/>
<path d="M287.7,354.2L299.7,302.0L275.2,297.5L287.3,354.1Z" fill="#660066" stroke="#660066" stroke-width="1"/>
<path d="M299.7,302.0L311.7,250.3L298.6,248.1L272.7,286.0L275.2,297.5Z" fill="#ff8080" stroke="#ff8080" stroke-width="1"/>
<path d="M311.7,250.3L319.2,217.9L298.6,248.1Z" fill="#0066cc" stroke="#0066cc" stroke-width="1"/>
<path d="M287.5,355.0L288.0,354.2L287.7,354.2Z" fill="#ccffff" stroke="#ccffff" stroke-width="1"/>
<path d="M288.0,354.2L320.4,306.0L299.7,302.0L287.7,354.2Z" fill="#660066" stroke="#660066" stroke-width="1"/>
<path d="M320.4,306.0L334.6,284.9L327.3,253.0L311.7,250.3L299.7,302.0Z" fill="#ff8080" stroke="#ff8080" stroke-width="1"/>
<path d="M327.3,253.0L319.2,217.9L311.7,250.3Z" fill="#0066cc" stroke="#0066cc" stroke-width="1"/>
<path d="M319.2,217.9L272.7,286.0L287.5,355.0M287.7,354.2L287.3,354.1M299.7,302.0L275.2,297.5M311.7,250.3L298.6,248.1M287.5,355.0L334.6,284.9L319.2,217.9M288.0,354.2L287.7,354.2M320.4,306.0L299.7,302.0M327.3,253.0L311.7,250.3" fill="none" stroke="#000" stroke-width="1.0" stroke-linejoin="round" stroke-linecap="round"/>
<path d="M240.4,412.1L242.9,402.2L238.2,401.4Z" fill="#ffffcc" stroke="#ffffcc" stroke-width="1"/>
<path d="M242.9,402.2L256.5,349.2L226.7,344.4L238.2,401.4Z" fill="#ccffff" stroke="#ccffff" stroke-width="1"/>
<path d="M256.5,349.2L270.0,296.7L264.6,295.9L226.3,342.4L226.7,344.4Z" fill="#660066" stroke="#660066" stroke-width="1"/>
<path d="M270.0,296.7L272.7,286.0L264.6,295.9Z" fill="#ff8080" stroke="#ff8080" stroke-width="1"/>
<path d="M240.4,412.1L247.8,403.0L242.9,402.2Z" fill="#ffffcc" stroke="#ffffcc" stroke-width="1"/>
<path d="M247.8,403.0L287.5,355.0L287.3,354.1L256.5,349.2L242.9,402.2Z" fill="#ccffff" stroke="#ccffff" stroke-width="1"/>
<path d="M287.3,354.1L275.2,297.5L270.0,296.7L256.5,349.2Z" fill="#660066" stroke="#660066" stroke-width="1"/>
<path d="M275.2,297.5L272.7,286.0L270.0,296.7Z" fill="#ff8080" stroke="#ff8080" stroke-width="1"/>
<path d="M272.7,286.0L226.3,342.4L240.4,412.1M242.9,402.2L238.2,401.4M256.5,349.2L226.7,344.4M270.0,296.7L264.6,295.9M240.4,412.1L287.5,355.0L272.7,286.0M247.8,403.0L242.9,402.2M287.3,354.1L256.5,349.2M275.2,297.5L270.0,296.7" fill="none" stroke="#000" stroke-width="1.0" stroke-linejoin="round" stroke-linecap="round"/>
<path d="M193.2,463.9L196.7,451.0L190.6,450.0Z" fill="#993366" stroke="#993366" stroke-width="1"/>
<path d="M196.7,451.0L211.3,397.3L179.9,392.9L190.6,450.0Z" fill="#ffffcc" stroke="#ffffcc" stroke-width="1"/>
<path d="M211.3,397.3L225.8,344.3L224.7,344.1L179.7,392.0L179.9,392.9Z" fill="#ccffff" stroke="#ccffff" stroke-width="1"/>
<path d="M225.8,344.3L226.3,342.4L224.7,344.1Z" fill="#660066" stroke="#660066" stroke-width="1"/>
<path d="M193.2,463.9L203.9,452.1L196.7,451.0Z" fill="#993366" stroke="#993366" stroke-width="1"/>
<path d="M203.9,452.1L240.4,412.1L238.2,401.4L211.3,397.3L196.7,451.0Z" fill="#ffffcc" stroke="#ffffcc" stroke-width="1"/>
<path d="M238.2,401.4L226.7,344.4L225.8,344.3L211.3,397.3Z" fill="#ccffff" stroke="#ccffff" stroke-width="1"/>
<path d="M226.7,344.4L226.3,342.4L225.8,344.3Z" fill="#660066" stroke="#660066" stroke-width="1"/>
<path d="M226.3,342.4L179.7,392.0L193.2,463.9M196.7,451.0L190.6,450.0M211.3,397.3L179.9,392.9M225.8,344.3L224.7,344.1M193.2,463.9L240.4,412.1L226.3,342.4M203.9,452.1L196.7,451.0M238.2,401.4L211.3,397.3M226.7,344.4L225.8,344.3" fill="none" stroke="#000" stroke-width="1.0" stroke-linejoin="round" stroke-linecap="round"/>
<path d="M145.2,489.0L159.4,449.2L133.6,441.4L133.2,441.9Z" fill="#993366" stroke="#993366" stroke-width="1"/>
<path d="M159.4,449.2L179.4,392.9L179.0,392.8L133.6,441.4Z" fill="#ffffcc" stroke="#ffffcc" stroke-width="1"/>
<path d="M179.4,392.9L179.7,392.0L179.0,392.8Z" fill="#ccffff" stroke="#ccffff" stroke-width="1"/>
<path d="M145.2,489.0L193.2,463.9L190.6,450.0L159.4,449.2Z" fill="#993366" stroke="#993366" stroke-width="1"/>
<path d="M190.6,450.0L179.9,392.9L179.4,392.9L159.4,449.2Z" fill="#ffffcc" stroke="#ffffcc" stroke-width="1"/>
<path d="M179.9,392.9L179.7,392.0L179.4,392.9Z" fill="#ccffff" stroke="#ccffff" stroke-width="1"/>
<path d="M179.7,392.0L133.2,441.9L145.2,489.0M159.4,449.2L133.6,441.4M179.4,392.9L179.0,392.8M145.2,489.0L193.2,463.9L179.7,392.0M190.6,450.0L159.4,449.2M179.9,392.9L179.4,392.9" fill="none" stroke="#000" stroke-width="1.0" stroke-linejoin="round" stroke-linecap="round"/>
<path d="M539.9,295.6L566.0,283.7L520.8,287.2Z" fill="#ff8080" stroke="#ff8080" stroke-width="1"/>
<path d="M539.9,295.6L585.9,292.7L566.0,283.7Z" fill="#ff8080" stroke="#ff8080" stroke-width="1"/>
<path d="M566.0,283.7L520.8,287.2L539.9,295.6M539.9,295.6L585.9,292.7L566.0,283.7" fill="none" stroke="#000" stroke-width="1.0" stroke-linejoin="round" stroke-linecap="round"/>
<path d="M493.2,301.9L520.8,287.2L475.1,290.7Z" fill="#ff8080" stroke="#ff8080" stroke-width="1"/>
<path d="M493.2,301.9L539.9,295.6L520.8,287.2Z" fill="#ff8080" stroke="#ff8080" stroke-width="1"/>
<path d="M520.8,287.2L475.1,290.7L493.2,301.9M493.2,301.9L539.9,295.6L520.8,287.2" fill="none" stroke="#000" stroke-width="1.0" stroke-linejoin="round" stroke-linecap="round"/>
<path d="M446.1,307.5L475.1,290.7L428.8,294.2Z" fill="#ff8080" stroke="#ff8080" stroke-width="1"/>
<path d="M446.1,307.5L493.2,301.9L475.1,290.7Z" fill="#ff8080" stroke="#ff8080" stroke-width="1"/>
<path d="M475.1,290.7L428.8,294.2L446.1,307.5M446.1,307.5L493.2,301.9L475.1,290.7" fill="none" stroke="#000" stroke-width="1.0" stroke-linejoin="round" stroke-linecap="round"/>
<path d="M446.1,307.5L428.8,294.2L412.0,253.3L422.8,261.2Z" fill="#ff8080" stroke="#ff8080" stroke-width="1"/>
<path d="M412.0,253.3L393.6,208.4L397.6,211.2L422.8,261.2Z" fill="#0066cc" stroke="#0066cc" stroke-width="1"/>
<path d="M393.6,208.4L381.9,180.0L397.6,211.2Z" fill="#ccccff" stroke="#ccccff" stroke-width="1"/>
<path d="M446.1,307.5L428.8,294.2L381.9,180.0M412.0,253.3L422.8,261.2M393.6,208.4L397.6,211.2" fill="none" stroke="#000" stroke-width="1.0" stroke-linejoin="round" stroke-linecap="round"/>
<path d="M398.5,294.5L446.1,307.5L422.8,261.2L394.2,264.7Z" fill="#ff8080" stroke="#ff8080" stroke-width="1"/>
<path d="M422.8,261.2L397.6,211.2L386.6,212.5L394.2,264.7Z" fill="#0066cc" stroke="#0066cc" stroke-width="1"/>
<path d="M397.6,211.2L381.9,180.0L386.6,212.5Z" fill="#ccccff" stroke="#ccccff" stroke-width="1"/>
<path d="M398.5,294.5L446.1,307.5M381.9,180.0L398.5,294.5M422.8,261.2L394.2,264.7M397.6,211.2L386.6,212.5" fill="none" stroke="#000" stroke-width="1.0" stroke-linejoin="round" stroke-linecap="round"/>
<path d="M350.7,396.1L355.6,361.9L345.5,360.1Z" fill="#ccffff" stroke="#ccffff" stroke-width="1"/>
<path d="M355.6,361.9L362.9,311.6L337.9,307.6L345.5,360.1Z" fill="#660066" stroke="#660066" stroke-width="1"/>
<path d="M362.9,311.6L370.1,261.4L346.7,258.0L334.6,284.9L337.9,307.6Z" fill="#ff8080" stroke="#ff8080" stroke-width="1"/>
<path d="M370.1,261.4L377.4,211.3L368.3,210.1L346.7,258.0Z" fill="#0066cc" stroke="#0066cc" stroke-width="1"/>
<path d="M377.4,211.3L381.9,180.0L368.3,210.1Z" fill="#ccccff" stroke="#ccccff" stroke-width="1"/>
<path d="M350.7,396.1L366.0,363.6L355.6,361.9Z" fill="#ccffff" stroke="#ccffff" stroke-width="1"/>
<path d="M366.0,363.6L388.6,315.5L362.9,311.6L355.6,361.9Z" fill="#660066" stroke="#660066" stroke-width="1"/>
<path d="M388.6,315.5L398.5,294.5L394.2,264.7L370.1,261.4L362.9,311.6Z" fill="#ff8080" stroke="#ff8080" stroke-width="1"/>
<path d="M394.2,264.7L386.6,212.5L377.4,211.3L370.1,261.4Z" fill="#0066cc" stroke="#0066cc" stroke-width="1"/>
<path d="M386.6,212.5L381.9,180.0L377.4,211.3Z" fill="#ccccff" stroke="#ccccff" stroke-width="1"/>
<path d="M381.9,180.0L334.6,284.9L350.7,396.1M355.6,361.9L345.5,360.1M362.9,311.6L337.9,307.6M370.1,261.4L346.7,258.0M377.4,211.3L368.3,210.1M350.7,396.1L398.5,294.5L381.9,180.0M366.0,363.6L355.6,361.9M388.6,315.5L362.9,311.6M394.2,264.7L370.1,261.4M386.6,212.5L377.4,211.3" fill="none" stroke="#000" stroke-width="1.0" stroke-linejoin="round" stroke-linecap="round"/>
<path d="M303.0,461.1L303.1,460.5L303.0,460.5Z" fill="#993366" stroke="#993366" stroke-width="1"/>
<path d="M303.1,460.5L312.3,409.2L295.1,407.1L303.0,460.5Z" fill="#ffffcc" stroke="#ffffcc" stroke-width="1"/>
<path d="M312.3,409.2L321.5,358.0L288.0,354.2L287.5,355.0L295.1,407.1Z" fill="#ccffff" stroke="#ccffff" stroke-width="1"/>
<path d="M321.5,358.0L330.6,307.0L320.4,306.0L288.0,354.2Z" fill="#660066" stroke="#660066" stroke-width="1"/>
<path d="M330.6,307.0L334.6,284.9L320.4,306.0Z" fill="#ff8080" stroke="#ff8080" stroke-width="1"/>
<path d="M303.0,461.1L303.4,460.6L303.1,460.5Z" fill="#993366" stroke="#993366" stroke-width="1"/>
<path d="M303.4,460.6L339.2,411.7L312.3,409.2L303.1,460.5Z" fill="#ffffcc" stroke="#ffffcc" stroke-width="1"/>
<path d="M339.2,411.7L350.7,396.1L345.5,360.1L321.5,358.0L312.3,409.2Z" fill="#ccffff" stroke="#ccffff" stroke-width="1"/>
<path d="M345.5,360.1L337.9,307.6L330.6,307.0L321.5,358.0Z" fill="#660066" stroke="#660066" stroke-width="1"/>
<path d="M337.9,307.6L334.6,284.9L330.6,307.0Z" fill="#ff8080" stroke="#ff8080" stroke-width="1"/>
<path d="M334.6,284.9L287.5,355.0L303.0,461.1M303.1,460.5L303.0,460.5M312.3,409.2L295.1,407.1M321.5,358.0L288.0,354.2M330.6,307.0L320.4,306.0M303.0,461.1L350.7,396.1L334.6,284.9M303.4,460.6L303.1,460.5M339.2,411.7L312.3,409.2M345.5,360.1L321.5,358.0M337.9,307.6L330.6,307.0" fill="none" stroke="#000" stroke-width="1.0" stroke-linejoin="round" stroke-linecap="round"/>
<path d="M254.9,487.9L261.6,460.9L249.4,458.8Z" fill="#993366" stroke="#993366" stroke-width="1"/>
<path d="M261.6,460.9L274.7,407.3L247.8,403.0L240.4,412.1L249.4,458.8Z" fill="#ffffcc" stroke="#ffffcc" stroke-width="1"/>
<path d="M274.7,407.3L287.5,355.0L247.8,403.0Z" fill="#ccffff" stroke="#ccffff" stroke-width="1"/>
<path d="M254.9,487.9L303.0,461.1L303.0,460.5L261.6,460.9Z" fill="#993366" stroke="#993366" stroke-width="1"/>
<path d="M303.0,460.5L295.1,407.1L274.7,407.3L261.6,460.9Z" fill="#ffffcc" stroke="#ffffcc" stroke-width="1"/>
<path d="M295.1,407.1L287.5,355.0L274.7,407.3Z" fill="#ccffff" stroke="#ccffff" stroke-width="1"/>
<path d="M287.5,355.0L240.4,412.1L254.9,487.9M261.6,460.9L249.4,458.8M274.7,407.3L247.8,403.0M254.9,487.9L303.0,461.1L287.5,355.0M303.0,460.5L261.6,460.9M295.1,407.1L274.7,407.3" fill="none" stroke="#000" stroke-width="1.0" stroke-linejoin="round" stroke-linecap="round"/>
<path d="M206.4,508.0L223.7,459.0L203.9,452.1L193.2,463.9Z" fill="#993366" stroke="#993366" stroke-width="1"/>
<path d="M223.7,459.0L240.4,412.1L203.9,452.1Z" fill="#ffffcc" stroke="#ffffcc" stroke-width="1"/>
<path d="M206.4,508.0L254.9,487.9L249.4,458.8L223.7,459.0Z" fill="#993366" stroke="#993366" stroke-width="1"/>
<path d="M249.4,458.8L240.4,412.1L223.7,459.0Z" fill="#ffffcc" stroke="#ffffcc" stroke-width="1"/>
<path d="M240.4,412.1L193.2,463.9L206.4,508.0M223.7,459.0L203.9,452.1M206.4,508.0L254.9,487.9L240.4,412.1M249.4,458.8L223.7,459.0" fill="none" stroke="#000" stroke-width="1.0" stroke-linejoin="round" stroke-linecap="round"/>
<path d="M157.2,520.0L193.2,463.9L145.2,489.0Z" fill="#993366" stroke="#993366" stroke-width="1"/>
<path d="M157.2,520.0L206.4,508.0L193.2,463.9Z" fill="#993366" stroke="#993366" stroke-width="1"/>
<path d="M193.2,463.9L145.2,489.0L157.2,520.0M157.2,520.0L206.4,508.0L193.2,463.9" fill="none" stroke="#000" stroke-width="1.0" stroke-linejoin="round" stroke-linecap="round"/>
<path d="M569.0,265.1L585.9,292.7L539.9,295.6L554.0,266.2Z" fill="#ff8080" stroke="#ff8080" stroke-width="1"/>
<path d="M560.8,251.9L569.0,265.1L554.0,266.2Z" fill="#0066cc" stroke="#0066cc" stroke-width="1"/>
<path d="M603.2,267.1L607.5,268.7L585.9,292.7L569.0,265.1Z" fill="#ff8080" stroke="#ff8080" stroke-width="1"/>
<path d="M560.8,251.9L603.2,267.1L569.0,265.1Z" fill="#0066cc" stroke="#0066cc" stroke-width="1"/>
<path d="M585.9,292.7L539.9,295.6L560.8,251.9M569.0,265.1L554.0,266.2M560.8,251.9L607.5,268.7L585.9,292.7M603.2,267.1L569.0,265.1" fill="none" stroke="#000" stroke-width="1.0" stroke-linejoin="round" stroke-linecap="round"/>
<path d="M527.6,265.2L539.9,295.6L493.2,301.9L503.0,267.3Z" fill="#ff8080" stroke="#ff8080" stroke-width="1"/>
<path d="M513.4,229.9L527.6,265.2L503.0,267.3Z" fill="#0066cc" stroke="#0066cc" stroke-width="1"/>
<path d="M554.0,266.2L539.9,295.6L527.6,265.2Z" fill="#ff8080" stroke="#ff8080" stroke-width="1"/>
<path d="M513.4,229.9L560.8,251.9L554.0,266.2L527.6,265.2Z" fill="#0066cc" stroke="#0066cc" stroke-width="1"/>
<path d="M539.9,295.6L493.2,301.9L513.4,229.9M527.6,265.2L503.0,267.3M513.4,229.9L560.8,251.9L539.9,295.6M554.0,266.2L527.6,265.2" fill="none" stroke="#000" stroke-width="1.0" stroke-linejoin="round" stroke-linecap="round"/>
<path d="M485.8,265.6L493.2,301.9L446.1,307.5L451.5,268.2Z" fill="#ff8080" stroke="#ff8080" stroke-width="1"/>
<path d="M477.1,223.3L485.8,265.6L451.5,268.2L457.5,224.8Z" fill="#0066cc" stroke="#0066cc" stroke-width="1"/>
<path d="M468.2,179.9L477.1,223.3L457.5,224.8L463.7,180.2Z" fill="#ccccff" stroke="#ccccff" stroke-width="1"/>
<path d="M465.5,166.8L468.2,179.9L463.7,180.2Z" fill="#000080" stroke="#000080" stroke-width="1"/>
<path d="M503.0,267.3L493.2,301.9L485.8,265.6Z" fill="#ff8080" stroke="#ff8080" stroke-width="1"/>
<path d="M510.8,226.5L513.4,229.9L503.0,267.3L485.8,265.6L477.1,223.3Z" fill="#0066cc" stroke="#0066cc" stroke-width="1"/>
<path d="M475.9,180.6L510.8,226.5L477.1,223.3L468.2,179.9Z" fill="#ccccff" stroke="#ccccff" stroke-width="1"/>
<path d="M465.5,166.8L475.9,180.6L468.2,179.9Z" fill="#000080" stroke="#000080" stroke-width="1"/>
<path d="M493.2,301.9L446.1,307.5L465.5,166.8M485.8,265.6L451.5,268.2M477.1,223.3L457.5,224.8M468.2,179.9L463.7,180.2M465.5,166.8L513.4,229.9L493.2,301.9M503.0,267.3L485.8,265.6M510.8,226.5L477.1,223.3M475.9,180.6L468.2,179.9" fill="none" stroke="#000" stroke-width="1.0" stroke-linejoin="round" stroke-linecap="round"/>
<path d="M451.5,268.2L446.1,307.5L398.5,294.5L411.4,269.9Z" fill="#ff8080" stroke="#ff8080" stroke-width="1"/>
<path d="M457.5,224.8L451.5,268.2L411.4,269.9L434.6,225.6Z" fill="#0066cc" stroke="#0066cc" stroke-width="1"/>
<path d="M463.7,180.2L457.5,224.8L434.6,225.6L458.4,180.4Z" fill="#ccccff" stroke="#ccccff" stroke-width="1"/>
<path d="M465.5,166.8L463.7,180.2L458.4,180.4Z" fill="#000080" stroke="#000080" stroke-width="1"/>
<path d="M465.5,166.8L446.1,307.5L398.5,294.5M451.5,268.2L411.4,269.9M457.5,224.8L434.6,225.6M463.7,180.2L458.4,180.4" fill="none" stroke="#000" stroke-width="1.0" stroke-linejoin="round" stroke-linecap="round"/>
<path d="M415.3,416.0L423.6,375.1L408.9,370.1Z" fill="#ccffff" stroke="#ccffff" stroke-width="1"/>
<path d="M423.6,375.1L433.2,327.3L401.6,317.3L408.9,370.1Z" fill="#660066" stroke="#660066" stroke-width="1"/>
<path d="M433.2,327.3L442.9,279.1L411.4,269.9L398.5,294.5L401.6,317.3Z" fill="#ff8080" stroke="#ff8080" stroke-width="1"/>
<path d="M442.9,279.1L452.7,230.5L434.6,225.6L411.4,269.9Z" fill="#0066cc" stroke="#0066cc" stroke-width="1"/>
<path d="M452.7,230.5L462.6,181.4L458.4,180.4L434.6,225.6Z" fill="#ccccff" stroke="#ccccff" stroke-width="1"/>
<path d="M462.6,181.4L465.5,166.8L458.4,180.4Z" fill="#000080" stroke="#000080" stroke-width="1"/>
<path d="M415.3,416.0L465.5,166.8M398.5,294.5L415.3,416.0M423.6,375.1L408.9,370.1M433.2,327.3L401.6,317.3M442.9,279.1L411.4,269.9M452.7,230.5L434.6,225.6M462.6,181.4L458.4,180.4" fill="none" stroke="#000" stroke-width="1.0" stroke-linejoin="round" stroke-linecap="round"/>
<path d="M366.9,474.0L367.1,472.7L366.6,472.6Z" fill="#993366" stroke="#993366" stroke-width="1"/>
<path d="M367.1,472.7L376.3,420.6L354.5,414.4L366.6,472.6Z" fill="#ffffcc" stroke="#ffffcc" stroke-width="1"/>
<path d="M376.3,420.6L385.4,368.6L366.0,363.6L350.7,396.1L354.5,414.4Z" fill="#ccffff" stroke="#ccffff" stroke-width="1"/>
<path d="M385.4,368.6L394.5,316.9L388.6,315.5L366.0,363.6Z" fill="#660066" stroke="#660066" stroke-width="1"/>
<path d="M394.5,316.9L398.5,294.5L388.6,315.5Z" fill="#ff8080" stroke="#ff8080" stroke-width="1"/>
<path d="M366.9,474.0L367.9,472.8L367.1,472.7Z" fill="#993366" stroke="#993366" stroke-width="1"/>
<path d="M367.9,472.8L409.7,422.8L376.3,420.6L367.1,472.7Z" fill="#ffffcc" stroke="#ffffcc" stroke-width="1"/>
<path d="M409.7,422.8L415.3,416.0L408.9,370.1L385.4,368.6L376.3,420.6Z" fill="#ccffff" stroke="#ccffff" stroke-width="1"/>
<path d="M408.9,370.1L401.6,317.3L394.5,316.9L385.4,368.6Z" fill="#660066" stroke="#660066" stroke-width="1"/>
<path d="M401.6,317.3L398.5,294.5L394.5,316.9Z" fill="#ff8080" stroke="#ff8080" stroke-width="1"/>
<path d="M398.5,294.5L350.7,396.1L366.9,474.0M367.1,472.7L366.6,472.6M376.3,420.6L354.5,414.4M385.4,368.6L366.0,363.6M394.5,316.9L388.6,315.5M366.9,474.0L415.3,416.0L398.5,294.5M367.9,472.8L367.1,472.7M409.7,422.8L376.3,420.6M408.9,370.1L385.4,368.6M401.6,317.3L394.5,316.9" fill="none" stroke="#000" stroke-width="1.0" stroke-linejoin="round" stroke-linecap="round"/>
<path d="M318.3,506.4L328.8,470.6L303.4,460.6L303.0,461.1Z" fill="#993366" stroke="#993366" stroke-width="1"/>
<path d="M328.8,470.6L345.4,414.0L339.2,411.7L303.4,460.6Z" fill="#ffffcc" stroke="#ffffcc" stroke-width="1"/>
<path d="M345.4,414.0L350.7,396.1L339.2,411.7Z" fill="#ccffff" stroke="#ccffff" stroke-width="1"/>
<path d="M318.3,506.4L366.9,474.0L366.6,472.6L328.8,470.6Z" fill="#993366" stroke="#993366" stroke-width="1"/>
<path d="M366.6,472.6L354.5,414.4L345.4,414.0L328.8,470.6Z" fill="#ffffcc" stroke="#ffffcc" stroke-width="1"/>
<path d="M354.5,414.4L350.7,396.1L345.4,414.0Z" fill="#ccffff" stroke="#ccffff" stroke-width="1"/>
<path d="M350.7,396.1L303.0,461.1L318.3,506.4M328.8,470.6L303.4,460.6M345.4,414.0L339.2,411.7M318.3,506.4L366.9,474.0L350.7,396.1M366.6,472.6L328.8,470.6M354.5,414.4L345.4,414.0" fill="none" stroke="#000" stroke-width="1.0" stroke-linejoin="round" stroke-linecap="round"/>
<path d="M269.3,529.1L269.7,528.4L269.0,528.3Z" fill="#9999ff" stroke="#9999ff" stroke-width="1"/>
<path d="M269.7,528.4L303.0,461.1L254.9,487.9L269.0,528.3Z" fill="#993366" stroke="#993366" stroke-width="1"/>
<path d="M269.3,529.1L270.6,528.5L269.7,528.4Z" fill="#9999ff" stroke="#9999ff" stroke-width="1"/>
<path d="M270.6,528.5L318.3,506.4L303.0,461.1L269.7,528.4Z" fill="#993366" stroke="#993366" stroke-width="1"/>
<path d="M303.0,461.1L254.9,487.9L269.3,529.1M269.7,528.4L269.0,528.3M269.3,529.1L318.3,506.4L303.0,461.1M270.6,528.5L269.7,528.4" fill="none" stroke="#000" stroke-width="1.0" stroke-linejoin="round" stroke-linecap="round"/>
<path d="M219.8,545.1L231.6,526.0L211.7,522.7Z" fill="#9999ff" stroke="#9999ff" stroke-width="1"/>
<path d="M231.6,526.0L254.9,487.9L206.4,508.0L211.7,522.7Z" fill="#993366" stroke="#993366" stroke-width="1"/>
<path d="M219.8,545.1L269.3,529.1L269.0,528.3L231.6,526.0Z" fill="#9999ff" stroke="#9999ff" stroke-width="1"/>
<path d="M269.0,528.3L254.9,487.9L231.6,526.0Z" fill="#993366" stroke="#993366" stroke-width="1"/>
<path d="M254.9,487.9L206.4,508.0L219.8,545.1M231.6,526.0L211.7,522.7M219.8,545.1L269.3,529.1L254.9,487.9M269.0,528.3L231.6,526.0" fill="none" stroke="#000" stroke-width="1.0" stroke-linejoin="round" stroke-linecap="round"/>
<path d="M169.8,557.0L195.7,522.3L157.5,520.9Z" fill="#9999ff" stroke="#9999ff" stroke-width="1"/>
<path d="M195.7,522.3L206.4,508.0L157.2,520.0L157.5,520.9Z" fill="#993366" stroke="#993366" stroke-width="1"/>
<path d="M169.8,557.0L219.8,545.1L211.7,522.7L195.7,522.3Z" fill="#9999ff" stroke="#9999ff" stroke-width="1"/>
<path d="M211.7,522.7L206.4,508.0L195.7,522.3Z" fill="#993366" stroke="#993366" stroke-width="1"/>
<path d="M206.4,508.0L157.2,520.0L169.8,557.0M195.7,522.3L157.5,520.9M169.8,557.0L219.8,545.1L206.4,508.0M211.7,522.7L195.7,522.3" fill="none" stroke="#000" stroke-width="1.0" stroke-linejoin="round" stroke-linecap="round"/>
<path d="M606.3,267.6L607.5,268.7L603.2,267.1Z" fill="#ff8080" stroke="#ff8080" stroke-width="1"/>
<path d="M582.1,245.5L606.3,267.6L603.2,267.1L560.8,251.9Z" fill="#0066cc" stroke="#0066cc" stroke-width="1"/>
<path d="M608.9,267.6L607.5,268.7L606.3,267.6Z" fill="#ff8080" stroke="#ff8080" stroke-width="1"/>
<path d="M582.1,245.5L630.1,251.4L608.9,267.6L606.3,267.6Z" fill="#0066cc" stroke="#0066cc" stroke-width="1"/>
<path d="M607.5,268.7L560.8,251.9L582.1,245.5M606.3,267.6L603.2,267.1M582.1,245.5L630.1,251.4L607.5,268.7M608.9,267.6L606.3,267.6" fill="none" stroke="#000" stroke-width="1.0" stroke-linejoin="round" stroke-linecap="round"/>
<path d="M545.0,232.3L560.8,251.9L513.4,229.9L516.5,228.2Z" fill="#0066cc" stroke="#0066cc" stroke-width="1"/>
<path d="M533.8,218.4L545.0,232.3L516.5,228.2Z" fill="#ccccff" stroke="#ccccff" stroke-width="1"/>
<path d="M566.0,236.4L582.1,245.5L560.8,251.9L545.0,232.3Z" fill="#0066cc" stroke="#0066cc" stroke-width="1"/>
<path d="M533.8,218.4L566.0,236.4L545.0,232.3Z" fill="#ccccff" stroke="#ccccff" stroke-width="1"/>
<path d="M560.8,251.9L513.4,229.9L533.8,218.4M545.0,232.3L516.5,228.2M533.8,218.4L582.1,245.5L560.8,251.9M566.0,236.4L545.0,232.3" fill="none" stroke="#000" stroke-width="1.0" stroke-linejoin="round" stroke-linecap="round"/>
<path d="M512.4,226.9L513.4,229.9L510.8,226.5Z" fill="#0066cc" stroke="#0066cc" stroke-width="1"/>
<path d="M497.6,186.4L512.4,226.9L510.8,226.5L475.9,180.6Z" fill="#ccccff" stroke="#ccccff" stroke-width="1"/>
<path d="M485.0,151.6L497.6,186.4L475.9,180.6L465.5,166.8Z" fill="#000080" stroke="#000080" stroke-width="1"/>
<path d="M516.5,228.2L513.4,229.9L512.4,226.9Z" fill="#0066cc" stroke="#0066cc" stroke-width="1"/>
<path d="M513.8,190.9L533.8,218.4L516.5,228.2L512.4,226.9L497.6,186.4Z" fill="#ccccff" stroke="#ccccff" stroke-width="1"/>
<path d="M485.0,151.6L513.8,190.9L497.6,186.4Z" fill="#000080" stroke="#000080" stroke-width="1"/>
<path d="M513.4,229.9L465.5,166.8L485.0,151.6M512.4,226.9L510.8,226.5M497.6,186.4L475.9,180.6M485.0,151.6L533.8,218.4L513.4,229.9M516.5,228.2L512.4,226.9M513.8,190.9L497.6,186.4" fill="none" stroke="#000" stroke-width="1.0" stroke-linejoin="round" stroke-linecap="round"/>
<path d="M432.8,466.4L436.1,436.6L418.5,425.3Z" fill="#ffffcc" stroke="#ffffcc" stroke-width="1"/>
<path d="M436.1,436.6L441.6,385.9L423.6,375.1L415.3,416.0L418.5,425.3Z" fill="#ccffff" stroke="#ccffff" stroke-width="1"/>
<path d="M441.6,385.9L447.1,335.1L433.2,327.3L423.6,375.1Z" fill="#660066" stroke="#660066" stroke-width="1"/>
<path d="M447.1,335.1L452.7,284.2L442.9,279.1L433.2,327.3Z" fill="#ff8080" stroke="#ff8080" stroke-width="1"/>
<path d="M452.7,284.2L458.3,233.1L452.7,230.5L442.9,279.1Z" fill="#0066cc" stroke="#0066cc" stroke-width="1"/>
<path d="M458.3,233.1L463.9,182.0L462.6,181.4L452.7,230.5Z" fill="#ccccff" stroke="#ccccff" stroke-width="1"/>
<path d="M463.9,182.0L465.5,166.8L462.6,181.4Z" fill="#000080" stroke="#000080" stroke-width="1"/>
<path d="M432.8,466.4L437.5,438.3L436.1,436.6Z" fill="#ffffcc" stroke="#ffffcc" stroke-width="1"/>
<path d="M437.5,438.3L445.4,390.3L441.6,385.9L436.1,436.6Z" fill="#ccffff" stroke="#ccffff" stroke-width="1"/>
<path d="M445.4,390.3L453.5,341.8L447.1,335.1L441.6,385.9Z" fill="#660066" stroke="#660066" stroke-width="1"/>
<path d="M453.5,341.8L461.6,292.8L452.7,284.2L447.1,335.1Z" fill="#ff8080" stroke="#ff8080" stroke-width="1"/>
<path d="M461.6,292.8L469.8,243.3L458.3,233.1L452.7,284.2Z" fill="#0066cc" stroke="#0066cc" stroke-width="1"/>
<path d="M469.8,243.3L478.1,193.2L463.9,182.0L458.3,233.1Z" fill="#ccccff" stroke="#ccccff" stroke-width="1"/>
<path d="M478.1,193.2L485.0,151.6L465.5,166.8L463.9,182.0Z" fill="#000080" stroke="#000080" stroke-width="1"/>
<path d="M465.5,166.8L415.3,416.0L432.8,466.4M436.1,436.6L418.5,425.3M441.6,385.9L423.6,375.1M447.1,335.1L433.2,327.3M452.7,284.2L442.9,279.1M458.3,233.1L452.7,230.5M463.9,182.0L462.6,181.4M432.8,466.4L485.0,151.6L465.5,166.8M437.5,438.3L436.1,436.6M445.4,390.3L441.6,385.9M453.5,341.8L447.1,335.1M461.6,292.8L452.7,284.2M469.8,243.3L458.3,233.1M478.1,193.2L463.9,182.0" fill="none" stroke="#000" stroke-width="1.0" stroke-linejoin="round" stroke-linecap="round"/>
<path d="M383.5,527.1L396.7,481.2L367.9,472.8L366.9,474.0Z" fill="#993366" stroke="#993366" stroke-width="1"/>
<path d="M396.7,481.2L413.1,423.7L409.7,422.8L367.9,472.8Z" fill="#ffffcc" stroke="#ffffcc" stroke-width="1"/>
<path d="M413.1,423.7L415.3,416.0L409.7,422.8Z" fill="#ccffff" stroke="#ccffff" stroke-width="1"/>
<path d="M383.5,527.1L415.9,487.3L396.7,481.2Z" fill="#993366" stroke="#993366" stroke-width="1"/>
<path d="M415.9,487.3L432.8,466.4L418.5,425.3L413.1,423.7L396.7,481.2Z" fill="#ffffcc" stroke="#ffffcc" stroke-width="1"/>
<path d="M418.5,425.3L415.3,416.0L413.1,423.7Z" fill="#ccffff" stroke="#ccffff" stroke-width="1"/>
<path d="M415.3,416.0L366.9,474.0L383.5,527.1M396.7,481.2L367.9,472.8M413.1,423.7L409.7,422.8M383.5,527.1L432.8,466.4L415.3,416.0M415.9,487.3L396.7,481.2M418.5,425.3L413.1,423.7" fill="none" stroke="#000" stroke-width="1.0" stroke-linejoin="round" stroke-linecap="round"/>
<path d="M334.1,555.0L341.4,536.9L327.4,534.3Z" fill="#9999ff" stroke="#9999ff" stroke-width="1"/>
<path d="M341.4,536.9L366.9,474.0L318.3,506.4L327.4,534.3Z" fill="#993366" stroke="#993366" stroke-width="1"/>
<path d="M334.1,555.0L361.9,539.3L341.4,536.9Z" fill="#9999ff" stroke="#9999ff" stroke-width="1"/>
<path d="M361.9,539.3L383.5,527.1L366.9,474.0L341.4,536.9Z" fill="#993366" stroke="#993366" stroke-width="1"/>
<path d="M366.9,474.0L318.3,506.4L334.1,555.0M341.4,536.9L327.4,534.3M334.1,555.0L383.5,527.1L366.9,474.0M361.9,539.3L341.4,536.9" fill="none" stroke="#000" stroke-width="1.0" stroke-linejoin="round" stroke-linecap="round"/>
<path d="M284.3,573.0L304.6,533.2L270.6,528.5L269.3,529.1Z" fill="#9999ff" stroke="#9999ff" stroke-width="1"/>
<path d="M304.6,533.2L318.3,506.4L270.6,528.5Z" fill="#993366" stroke="#993366" stroke-width="1"/>
<path d="M284.3,573.0L334.1,555.0L327.4,534.3L304.6,533.2Z" fill="#9999ff" stroke="#9999ff" stroke-width="1"/>
<path d="M327.4,534.3L318.3,506.4L304.6,533.2Z" fill="#993366" stroke="#993366" stroke-width="1"/>
<path d="M318.3,506.4L269.3,529.1L284.3,573.0M304.6,533.2L270.6,528.5M284.3,573.0L334.1,555.0L318.3,506.4M327.4,534.3L304.6,533.2" fill="none" stroke="#000" stroke-width="1.0" stroke-linejoin="round" stroke-linecap="round"/>
<path d="M233.8,585.0L269.3,529.1L219.8,545.1Z" fill="#9999ff" stroke="#9999ff" stroke-width="1"/>
<path d="M233.8,585.0L284.3,573.0L269.3,529.1Z" fill="#9999ff" stroke="#9999ff" stroke-width="1"/>
<path d="M269.3,529.1L219.8,545.1L233.8,585.0M233.8,585.0L284.3,573.0L269.3,529.1" fill="none" stroke="#000" stroke-width="1.0" stroke-linejoin="round" stroke-linecap="round"/>
<path d="M182.8,593.2L219.8,545.1L169.8,557.0Z" fill="#9999ff" stroke="#9999ff" stroke-width="1"/>
<path d="M182.8,593.2L233.8,585.0L219.8,545.1Z" fill="#9999ff" stroke="#9999ff" stroke-width="1"/>
<path d="M219.8,545.1L169.8,557.0L182.8,593.2M182.8,593.2L233.8,585.0L219.8,545.1" fill="none" stroke="#000" stroke-width="1.0" stroke-linejoin="round" stroke-linecap="round"/>
<path d="M603.9,258.3L630.1,251.4L582.1,245.5Z" fill="#0066cc" stroke="#0066cc" stroke-width="1"/>
<path d="M603.9,258.3L652.8,264.2L630.1,251.4Z" fill="#0066cc" stroke="#0066cc" stroke-width="1"/>
<path d="M630.1,251.4L582.1,245.5L603.9,258.3M603.9,258.3L652.8,264.2L630.1,251.4" fill="none" stroke="#000" stroke-width="1.0" stroke-linejoin="round" stroke-linecap="round"/>
<path d="M572.8,240.9L582.1,245.5L566.0,236.4Z" fill="#0066cc" stroke="#0066cc" stroke-width="1"/>
<path d="M554.8,232.0L572.8,240.9L566.0,236.4L533.8,218.4Z" fill="#ccccff" stroke="#ccccff" stroke-width="1"/>
<path d="M587.2,249.4L603.9,258.3L582.1,245.5L572.8,240.9Z" fill="#0066cc" stroke="#0066cc" stroke-width="1"/>
<path d="M554.8,232.0L587.2,249.4L572.8,240.9Z" fill="#ccccff" stroke="#ccccff" stroke-width="1"/>
<path d="M582.1,245.5L533.8,218.4L554.8,232.0M572.8,240.9L566.0,236.4M554.8,232.0L603.9,258.3L582.1,245.5M587.2,249.4L572.8,240.9" fill="none" stroke="#000" stroke-width="1.0" stroke-linejoin="round" stroke-linecap="round"/>
<path d="M522.3,195.8L533.8,218.4L513.8,190.9Z" fill="#ccccff" stroke="#ccccff" stroke-width="1"/>
<path d="M505.2,162.3L522.3,195.8L513.8,190.9L485.0,151.6Z" fill="#000080" stroke="#000080" stroke-width="1"/>
<path d="M534.1,203.0L554.8,232.0L533.8,218.4L522.3,195.8Z" fill="#ccccff" stroke="#ccccff" stroke-width="1"/>
<path d="M505.2,162.3L534.1,203.0L522.3,195.8Z" fill="#000080" stroke="#000080" stroke-width="1"/>
<path d="M533.8,218.4L485.0,151.6L505.2,162.3M522.3,195.8L513.8,190.9M505.2,162.3L554.8,232.0L533.8,218.4M534.1,203.0L522.3,195.8" fill="none" stroke="#000" stroke-width="1.0" stroke-linejoin="round" stroke-linecap="round"/>
<path d="M451.2,484.0L454.2,453.9L437.5,438.3L432.8,466.4Z" fill="#ffffcc" stroke="#ffffcc" stroke-width="1"/>
<path d="M454.2,453.9L459.5,402.4L445.4,390.3L437.5,438.3Z" fill="#ccffff" stroke="#ccffff" stroke-width="1"/>
<path d="M459.5,402.4L464.7,350.8L453.5,341.8L445.4,390.3Z" fill="#660066" stroke="#660066" stroke-width="1"/>
<path d="M464.7,350.8L470.0,299.0L461.6,292.8L453.5,341.8Z" fill="#ff8080" stroke="#ff8080" stroke-width="1"/>
<path d="M470.0,299.0L475.3,246.9L469.8,243.3L461.6,292.8Z" fill="#0066cc" stroke="#0066cc" stroke-width="1"/>
<path d="M475.3,246.9L480.6,194.8L478.1,193.2L469.8,243.3Z" fill="#ccccff" stroke="#ccccff" stroke-width="1"/>
<path d="M480.6,194.8L485.0,151.6L478.1,193.2Z" fill="#000080" stroke="#000080" stroke-width="1"/>
<path d="M451.2,484.0L455.9,455.5L454.2,453.9Z" fill="#ffffcc" stroke="#ffffcc" stroke-width="1"/>
<path d="M455.9,455.5L464.2,406.5L459.5,402.4L454.2,453.9Z" fill="#ccffff" stroke="#ccffff" stroke-width="1"/>
<path d="M464.2,406.5L472.5,357.0L464.7,350.8L459.5,402.4Z" fill="#660066" stroke="#660066" stroke-width="1"/>
<path d="M472.5,357.0L480.9,307.0L470.0,299.0L464.7,350.8Z" fill="#ff8080" stroke="#ff8080" stroke-width="1"/>
<path d="M480.9,307.0L489.4,256.5L475.3,246.9L470.0,299.0Z" fill="#0066cc" stroke="#0066cc" stroke-width="1"/>
<path d="M489.4,256.5L498.0,205.4L480.6,194.8L475.3,246.9Z" fill="#ccccff" stroke="#ccccff" stroke-width="1"/>
<path d="M498.0,205.4L505.2,162.3L485.0,151.6L480.6,194.8Z" fill="#000080" stroke="#000080" stroke-width="1"/>
<path d="M485.0,151.6L432.8,466.4L451.2,484.0M454.2,453.9L437.5,438.3M459.5,402.4L445.4,390.3M464.7,350.8L453.5,341.8M470.0,299.0L461.6,292.8M475.3,246.9L469.8,243.3M480.6,194.8L478.1,193.2M451.2,484.0L505.2,162.3L485.0,151.6M455.9,455.5L454.2,453.9M464.2,406.5L459.5,402.4M472.5,357.0L464.7,350.8M480.9,307.0L470.0,299.0M489.4,256.5L475.3,246.9M498.0,205.4L480.6,194.8" fill="none" stroke="#000" stroke-width="1.0" stroke-linejoin="round" stroke-linecap="round"/>
<path d="M400.8,545.9L421.9,493.5L415.9,487.3L383.5,527.1Z" fill="#993366" stroke="#993366" stroke-width="1"/>
<path d="M421.9,493.5L432.8,466.4L415.9,487.3Z" fill="#ffffcc" stroke="#ffffcc" stroke-width="1"/>
<path d="M400.8,545.9L433.7,505.5L421.9,493.5Z" fill="#993366" stroke="#993366" stroke-width="1"/>
<path d="M433.7,505.5L451.2,484.0L432.8,466.4L421.9,493.5Z" fill="#ffffcc" stroke="#ffffcc" stroke-width="1"/>
<path d="M432.8,466.4L383.5,527.1L400.8,545.9M421.9,493.5L415.9,487.3M400.8,545.9L451.2,484.0L432.8,466.4M433.7,505.5L421.9,493.5" fill="none" stroke="#000" stroke-width="1.0" stroke-linejoin="round" stroke-linecap="round"/>
<path d="M350.4,575.0L369.3,547.6L361.9,539.3L334.1,555.0Z" fill="#9999ff" stroke="#9999ff" stroke-width="1"/>
<path d="M369.3,547.6L383.5,527.1L361.9,539.3Z" fill="#993366" stroke="#993366" stroke-width="1"/>
<path d="M350.4,575.0L378.6,558.7L369.3,547.6Z" fill="#9999ff" stroke="#9999ff" stroke-width="1"/>
<path d="M378.6,558.7L400.8,545.9L383.5,527.1L369.3,547.6Z" fill="#993366" stroke="#993366" stroke-width="1"/>
<path d="M383.5,527.1L334.1,555.0L350.4,575.0M369.3,547.6L361.9,539.3M350.4,575.0L400.8,545.9L383.5,527.1M378.6,558.7L369.3,547.6" fill="none" stroke="#000" stroke-width="1.0" stroke-linejoin="round" stroke-linecap="round"/>
<path d="M299.5,593.0L334.1,555.0L284.3,573.0Z" fill="#9999ff" stroke="#9999ff" stroke-width="1"/>
<path d="M299.5,593.0L350.4,575.0L334.1,555.0Z" fill="#9999ff" stroke="#9999ff" stroke-width="1"/>
<path d="M334.1,555.0L284.3,573.0L299.5,593.0M299.5,593.0L350.4,575.0L334.1,555.0" fill="none" stroke="#000" stroke-width="1.0" stroke-linejoin="round" stroke-linecap="round"/>
<path d="M248.0,605.6L284.3,573.0L233.8,585.0Z" fill="#9999ff" stroke="#9999ff" stroke-width="1"/>
<path d="M248.0,605.6L299.5,593.0L284.3,573.0Z" fill="#9999ff" stroke="#9999ff" stroke-width="1"/>
<path d="M284.3,573.0L233.8,585.0L248.0,605.6M248.0,605.6L299.5,593.0L284.3,573.0" fill="none" stroke="#000" stroke-width="1.0" stroke-linejoin="round" stroke-linecap="round"/>
<path d="M195.9,613.6L233.8,585.0L182.8,593.2Z" fill="#9999ff" stroke="#9999ff" stroke-width="1"/>
<path d="M195.9,613.6L248.0,605.6L233.8,585.0Z" fill="#9999ff" stroke="#9999ff" stroke-width="1"/>
<path d="M233.8,585.0L182.8,593.2L195.9,613.6M195.9,613.6L248.0,605.6L233.8,585.0" fill="none" stroke="#000" stroke-width="1.0" stroke-linejoin="round" stroke-linecap="round"/>
<path d="M58.4,258.2L65.4,258.2L162.9,383.3L674.4,339.9M162.9,383.3h-5.5M150.1,366.9h-5.5M137.9,351.2h-5.5M126.2,336.2h-5.5M115.0,321.8h-5.5M104.3,308.0h-5.5M94.0,294.8h-5.5M84.1,282.1h-5.5M74.6,269.9h-5.5M162.9,383.3v5.5M217.0,378.7v5.5M270.4,374.1v5.5M323.1,369.7v5.5M375.2,365.3v5.5M426.6,360.9v5.5M477.4,356.6v5.5M527.6,352.3v5.5M577.1,348.1v5.5M626.0,344.0v5.5M674.4,339.9v5.5" stroke="#000" stroke-width="1.35" fill="none"/>
<path d="M683.4,92.9h6.5M681.6,143.7h6.5M679.9,192.7h6.5M678.1,242.0h6.5M676.4,291.1h6.5M674.7,339.5h6.5M673.0,386.9h6.5M671.3,433.1h6.5M669.7,479.8h6.5M668.0,526.4h6.5M666.4,572.4h6.5M683.4,92.9L666.4,572.4M73.8,466.0L169.5,629.5L666.4,572.4M169.9,629.5h-8M157.4,608.2h-8M145.3,587.8h-8M133.8,568.3h-8M122.8,549.5h-8M112.2,531.6h-8M102.0,514.3h-8M92.2,497.7h-8M82.8,481.7h-8M73.7,466.3h-8" stroke="#000" stroke-width="1.4" fill="none"/>
<text transform="translate(646.90,38.10) scale(1.040,1)" font-size="22.8" font-weight="bold">Possibility of precision</text>
<text transform="translate(718.40,65.10) scale(1.076,1)" font-size="22.8" font-weight="bold">farming</text>
<text transform="translate(673.40,622.00) scale(1.054,1)" font-size="22.8" font-weight="bold">Nutrient supply level (kg/ha)</text>
<text transform="translate(22.40,696.50) scale(1.020,1)" font-size="22.8" font-weight="bold">Weed coverage (%)</text>
<text transform="translate(337.30,752.00) scale(1.008,1)" font-size="35" stroke="#000" stroke-width="0.25">Source: own construction.</text>
<text transform="translate(702.10,100.60) scale(1.095,1)" font-size="22.4" stroke="#000" stroke-width="0.35">100</text>
<text transform="translate(700.40,151.40) scale(1.067,1)" font-size="22.4" stroke="#000" stroke-width="0.35">80</text>
<text transform="translate(698.70,200.40) scale(1.067,1)" font-size="22.4" stroke="#000" stroke-width="0.35">60</text>
<text transform="translate(696.30,249.70) scale(1.098,1)" font-size="22.4" stroke="#000" stroke-width="0.35">40</text>
<text transform="translate(695.30,298.80) scale(1.063,1)" font-size="22.4" stroke="#000" stroke-width="0.35">20</text>
<text transform="translate(693.20,347.20) scale(0.875,1)" font-size="22.4" stroke="#000" stroke-width="0.35">0</text>
<text transform="translate(691.20,394.60) scale(1.027,1)" font-size="22.4" stroke="#000" stroke-width="0.35">-20</text>
<text transform="translate(690.20,440.80) scale(1.027,1)" font-size="22.4" stroke="#000" stroke-width="0.35">-40</text>
<text transform="translate(688.50,487.50) scale(1.047,1)" font-size="22.4" stroke="#000" stroke-width="0.35">-60</text>
<text transform="translate(686.80,534.10) scale(1.060,1)" font-size="22.4" stroke="#000" stroke-width="0.35">-80</text>
<text transform="translate(683.40,580.10) scale(1.119,1)" font-size="22.4" stroke="#000" stroke-width="0.35">-100</text>
<text transform="rotate(-3 195.2 668.0) translate(183.10,668.00) scale(1.080,1)" font-size="22.4" stroke="#000" stroke-width="0.35">20</text>
<text transform="rotate(-3 246.8 661.5) translate(235.10,661.50) scale(1.045,1)" font-size="22.4" stroke="#000" stroke-width="0.35">60</text>
<text transform="rotate(-3 299.6 656.8) translate(282.40,656.80) scale(1.024,1)" font-size="22.4" stroke="#000" stroke-width="0.35">100</text>
<text transform="rotate(-3 349.9 650.4) translate(332.00,650.40) scale(1.062,1)" font-size="22.4" stroke="#000" stroke-width="0.35">140</text>
<text transform="rotate(-3 400.0 645.6) translate(382.40,645.60) scale(1.048,1)" font-size="22.4" stroke="#000" stroke-width="0.35">180</text>
<text transform="rotate(-3 449.0 639.4) translate(429.90,639.40) scale(1.137,1)" font-size="22.4" stroke="#000" stroke-width="0.35">220</text>
<text transform="rotate(-3 497.8 633.7) translate(479.30,633.70) scale(1.098,1)" font-size="22.4" stroke="#000" stroke-width="0.35">260</text>
<text transform="rotate(-3 546.1 628.5) translate(527.90,628.50) scale(1.083,1)" font-size="22.4" stroke="#000" stroke-width="0.35">300</text>
<text transform="rotate(-3 594.0 623.3) translate(575.50,623.30) scale(1.098,1)" font-size="22.4" stroke="#000" stroke-width="0.35">340</text>
<text transform="rotate(-3 640.8 617.3) translate(622.80,617.30) scale(1.068,1)" font-size="22.4" stroke="#000" stroke-width="0.35">380</text>
<text transform="translate(31.20,473.60) scale(1.076,1)" font-size="22.4" stroke="#000" stroke-width="0.35">38</text>
<text transform="translate(51.70,521.40) scale(1.107,1)" font-size="22.4" stroke="#000" stroke-width="0.35">26</text>
<text transform="translate(85.30,576.20) scale(0.982,1)" font-size="22.4" stroke="#000" stroke-width="0.35">14</text>
<text transform="translate(133.10,636.30) scale(1.009,1)" font-size="22.4" stroke="#000" stroke-width="0.35">2</text>
<rect x="887.3" y="201.8" width="10" height="10" fill="#ff00ff" stroke="#0a0a2a" stroke-width="1.1"/>
<text transform="translate(901.80,213.60) scale(1.130,1)" font-size="20.3" stroke="#000" stroke-width="0.5">80-100</text>
<rect x="887.3" y="236.2" width="10" height="10" fill="#000080" stroke="#0a0a2a" stroke-width="1.1"/>
<text transform="translate(901.80,248.00) scale(1.130,1)" font-size="20.3" stroke="#000" stroke-width="0.5">60-80</text>
<rect x="887.3" y="270.6" width="10" height="10" fill="#ccccff" stroke="#0a0a2a" stroke-width="1.1"/>
<text transform="translate(901.80,282.40) scale(1.130,1)" font-size="20.3" stroke="#000" stroke-width="0.5">40-60</text>
<rect x="887.3" y="305.0" width="10" height="10" fill="#0066cc" stroke="#0a0a2a" stroke-width="1.1"/>
<text transform="translate(901.80,316.80) scale(1.130,1)" font-size="20.3" stroke="#000" stroke-width="0.5">20-40</text>
<rect x="887.3" y="339.4" width="10" height="10" fill="#ff8080" stroke="#0a0a2a" stroke-width="1.1"/>
<text transform="translate(901.80,351.20) scale(1.130,1)" font-size="20.3" stroke="#000" stroke-width="0.5">0-20</text>
<rect x="887.3" y="373.8" width="10" height="10" fill="#660066" stroke="#0a0a2a" stroke-width="1.1"/>
<text transform="translate(902.00,385.60) scale(1.130,1)" font-size="20.3" stroke="#000" stroke-width="0.5">-20-0</text>
<rect x="887.3" y="408.2" width="10" height="10" fill="#ccffff" stroke="#0a0a2a" stroke-width="1.1"/>
<text transform="translate(902.00,420.00) scale(1.130,1)" font-size="20.3" stroke="#000" stroke-width="0.5">-40--20</text>
<rect x="887.3" y="442.6" width="10" height="10" fill="#ffffcc" stroke="#0a0a2a" stroke-width="1.1"/>
<text transform="translate(902.00,454.40) scale(1.130,1)" font-size="20.3" stroke="#000" stroke-width="0.5">-60--40</text>
<rect x="887.3" y="477.0" width="10" height="10" fill="#993366" stroke="#0a0a2a" stroke-width="1.1"/>
<text transform="translate(902.00,488.80) scale(1.130,1)" font-size="20.3" stroke="#000" stroke-width="0.5">-80--60</text>
<rect x="887.3" y="511.4" width="10" height="10" fill="#9999ff" stroke="#0a0a2a" stroke-width="1.1"/>
<text transform="translate(902.00,523.20) scale(1.130,1)" font-size="20.3" stroke="#000" stroke-width="0.5">-100--80</text>
</g>
</svg>
</body></html>
